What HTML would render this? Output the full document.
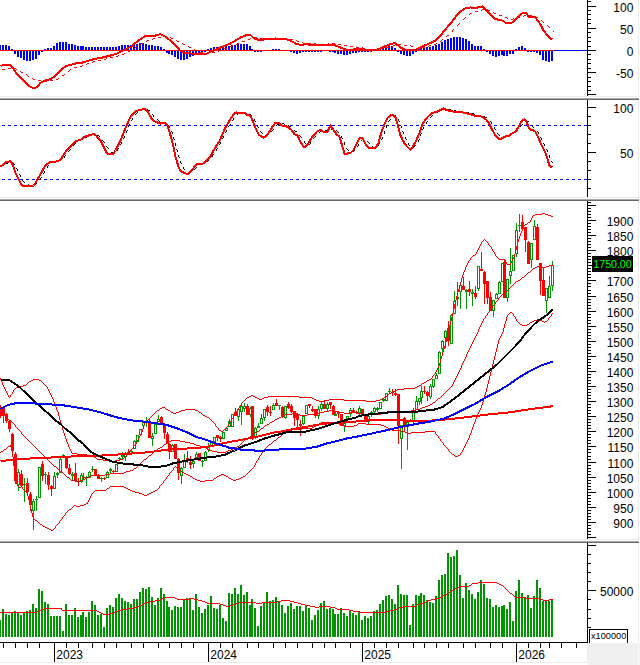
<!DOCTYPE html>
<html lang="en">
<head>
<meta charset="utf-8">
<title>Chart</title>
<style>
html,body{margin:0;padding:0;background:#fff;}
svg{display:block;}
text{font-family:"Liberation Sans",sans-serif;font-size:12px;fill:#000;}
</style>
</head>
<body>
<svg width="640" height="665" viewBox="0 0 640 665">
<g shape-rendering="crispEdges">
<rect x="0" y="0" width="640" height="665" fill="#ffffff"/>
<rect x="0" y="96" width="639" height="1" fill="#ebebeb"/>
<rect x="0" y="197" width="639" height="1" fill="#ebebeb"/>
<rect x="0" y="539" width="639" height="1" fill="#ebebeb"/>
<rect x="638" y="0" width="1" height="96" fill="#ebebeb"/>
<rect x="638" y="100" width="1" height="97" fill="#ebebeb"/>
<rect x="638" y="201" width="1" height="338" fill="#ebebeb"/>
<rect x="638" y="543" width="1" height="100" fill="#ebebeb"/>
<rect x="0" y="98" width="639" height="1" fill="#a8a8a8"/>
<rect x="0" y="99" width="639" height="1" fill="#6a6a6a"/>
<rect x="0" y="199" width="639" height="1" fill="#a8a8a8"/>
<rect x="0" y="200" width="639" height="1" fill="#6a6a6a"/>
<rect x="0" y="541" width="639" height="1" fill="#a8a8a8"/>
<rect x="0" y="542" width="639" height="1" fill="#6a6a6a"/>
<rect x="588" y="643" width="52" height="22" fill="#f0f0f0"/>
<rect x="0" y="662" width="588" height="1" fill="#ebebeb"/>
<rect x="587" y="643" width="1" height="20" fill="#ebebeb"/>
<rect x="638" y="643" width="1" height="22" fill="#fafafa"/>
<rect x="587" y="0" width="1" height="96" fill="#000"/>
<rect x="587" y="100" width="1" height="97" fill="#000"/>
<rect x="587" y="201" width="1" height="338" fill="#000"/>
<rect x="587" y="543" width="1" height="100" fill="#000"/>
<rect x="588" y="1" width="3" height="1" fill="#000"/>
<rect x="588" y="6" width="8" height="1" fill="#000"/>
<rect x="588" y="10" width="3" height="1" fill="#000"/>
<rect x="588" y="14" width="3" height="1" fill="#000"/>
<rect x="588" y="19" width="3" height="1" fill="#000"/>
<rect x="588" y="23" width="3" height="1" fill="#000"/>
<rect x="588" y="28" width="8" height="1" fill="#000"/>
<rect x="588" y="32" width="3" height="1" fill="#000"/>
<rect x="588" y="37" width="3" height="1" fill="#000"/>
<rect x="588" y="41" width="3" height="1" fill="#000"/>
<rect x="588" y="46" width="3" height="1" fill="#000"/>
<rect x="588" y="50" width="8" height="1" fill="#000"/>
<rect x="588" y="54" width="3" height="1" fill="#000"/>
<rect x="588" y="59" width="3" height="1" fill="#000"/>
<rect x="588" y="63" width="3" height="1" fill="#000"/>
<rect x="588" y="68" width="3" height="1" fill="#000"/>
<rect x="588" y="72" width="8" height="1" fill="#000"/>
<rect x="588" y="77" width="3" height="1" fill="#000"/>
<rect x="588" y="81" width="3" height="1" fill="#000"/>
<rect x="588" y="86" width="3" height="1" fill="#000"/>
<rect x="588" y="90" width="3" height="1" fill="#000"/>
<rect x="588" y="94" width="8" height="1" fill="#000"/>
<rect x="588" y="107" width="8" height="1" fill="#000"/>
<rect x="588" y="116" width="3" height="1" fill="#000"/>
<rect x="588" y="125" width="3" height="1" fill="#000"/>
<rect x="588" y="134" width="3" height="1" fill="#000"/>
<rect x="588" y="143" width="3" height="1" fill="#000"/>
<rect x="588" y="152" width="8" height="1" fill="#000"/>
<rect x="588" y="161" width="3" height="1" fill="#000"/>
<rect x="588" y="170" width="3" height="1" fill="#000"/>
<rect x="588" y="179" width="3" height="1" fill="#000"/>
<rect x="588" y="188" width="3" height="1" fill="#000"/>
<rect x="588" y="537" width="8" height="1" fill="#000"/>
<rect x="588" y="534" width="3" height="1" fill="#000"/>
<rect x="588" y="531" width="3" height="1" fill="#000"/>
<rect x="588" y="528" width="3" height="1" fill="#000"/>
<rect x="588" y="525" width="3" height="1" fill="#000"/>
<rect x="588" y="522" width="8" height="1" fill="#000"/>
<rect x="588" y="519" width="3" height="1" fill="#000"/>
<rect x="588" y="516" width="3" height="1" fill="#000"/>
<rect x="588" y="513" width="3" height="1" fill="#000"/>
<rect x="588" y="510" width="3" height="1" fill="#000"/>
<rect x="588" y="507" width="8" height="1" fill="#000"/>
<rect x="588" y="504" width="3" height="1" fill="#000"/>
<rect x="588" y="501" width="3" height="1" fill="#000"/>
<rect x="588" y="498" width="3" height="1" fill="#000"/>
<rect x="588" y="495" width="3" height="1" fill="#000"/>
<rect x="588" y="492" width="8" height="1" fill="#000"/>
<rect x="588" y="489" width="3" height="1" fill="#000"/>
<rect x="588" y="486" width="3" height="1" fill="#000"/>
<rect x="588" y="483" width="3" height="1" fill="#000"/>
<rect x="588" y="480" width="3" height="1" fill="#000"/>
<rect x="588" y="477" width="8" height="1" fill="#000"/>
<rect x="588" y="474" width="3" height="1" fill="#000"/>
<rect x="588" y="471" width="3" height="1" fill="#000"/>
<rect x="588" y="468" width="3" height="1" fill="#000"/>
<rect x="588" y="465" width="3" height="1" fill="#000"/>
<rect x="588" y="462" width="8" height="1" fill="#000"/>
<rect x="588" y="459" width="3" height="1" fill="#000"/>
<rect x="588" y="456" width="3" height="1" fill="#000"/>
<rect x="588" y="452" width="3" height="1" fill="#000"/>
<rect x="588" y="449" width="3" height="1" fill="#000"/>
<rect x="588" y="446" width="8" height="1" fill="#000"/>
<rect x="588" y="443" width="3" height="1" fill="#000"/>
<rect x="588" y="440" width="3" height="1" fill="#000"/>
<rect x="588" y="437" width="3" height="1" fill="#000"/>
<rect x="588" y="434" width="3" height="1" fill="#000"/>
<rect x="588" y="431" width="8" height="1" fill="#000"/>
<rect x="588" y="428" width="3" height="1" fill="#000"/>
<rect x="588" y="425" width="3" height="1" fill="#000"/>
<rect x="588" y="422" width="3" height="1" fill="#000"/>
<rect x="588" y="419" width="3" height="1" fill="#000"/>
<rect x="588" y="416" width="8" height="1" fill="#000"/>
<rect x="588" y="413" width="3" height="1" fill="#000"/>
<rect x="588" y="410" width="3" height="1" fill="#000"/>
<rect x="588" y="407" width="3" height="1" fill="#000"/>
<rect x="588" y="404" width="3" height="1" fill="#000"/>
<rect x="588" y="401" width="8" height="1" fill="#000"/>
<rect x="588" y="398" width="3" height="1" fill="#000"/>
<rect x="588" y="395" width="3" height="1" fill="#000"/>
<rect x="588" y="392" width="3" height="1" fill="#000"/>
<rect x="588" y="389" width="3" height="1" fill="#000"/>
<rect x="588" y="386" width="8" height="1" fill="#000"/>
<rect x="588" y="383" width="3" height="1" fill="#000"/>
<rect x="588" y="380" width="3" height="1" fill="#000"/>
<rect x="588" y="377" width="3" height="1" fill="#000"/>
<rect x="588" y="374" width="3" height="1" fill="#000"/>
<rect x="588" y="371" width="8" height="1" fill="#000"/>
<rect x="588" y="368" width="3" height="1" fill="#000"/>
<rect x="588" y="365" width="3" height="1" fill="#000"/>
<rect x="588" y="362" width="3" height="1" fill="#000"/>
<rect x="588" y="359" width="3" height="1" fill="#000"/>
<rect x="588" y="356" width="8" height="1" fill="#000"/>
<rect x="588" y="353" width="3" height="1" fill="#000"/>
<rect x="588" y="350" width="3" height="1" fill="#000"/>
<rect x="588" y="347" width="3" height="1" fill="#000"/>
<rect x="588" y="344" width="3" height="1" fill="#000"/>
<rect x="588" y="341" width="8" height="1" fill="#000"/>
<rect x="588" y="338" width="3" height="1" fill="#000"/>
<rect x="588" y="335" width="3" height="1" fill="#000"/>
<rect x="588" y="332" width="3" height="1" fill="#000"/>
<rect x="588" y="329" width="3" height="1" fill="#000"/>
<rect x="588" y="326" width="8" height="1" fill="#000"/>
<rect x="588" y="323" width="3" height="1" fill="#000"/>
<rect x="588" y="320" width="3" height="1" fill="#000"/>
<rect x="588" y="317" width="3" height="1" fill="#000"/>
<rect x="588" y="314" width="3" height="1" fill="#000"/>
<rect x="588" y="311" width="8" height="1" fill="#000"/>
<rect x="588" y="308" width="3" height="1" fill="#000"/>
<rect x="588" y="305" width="3" height="1" fill="#000"/>
<rect x="588" y="302" width="3" height="1" fill="#000"/>
<rect x="588" y="299" width="3" height="1" fill="#000"/>
<rect x="588" y="296" width="8" height="1" fill="#000"/>
<rect x="588" y="293" width="3" height="1" fill="#000"/>
<rect x="588" y="290" width="3" height="1" fill="#000"/>
<rect x="588" y="286" width="3" height="1" fill="#000"/>
<rect x="588" y="283" width="3" height="1" fill="#000"/>
<rect x="588" y="280" width="8" height="1" fill="#000"/>
<rect x="588" y="277" width="3" height="1" fill="#000"/>
<rect x="588" y="274" width="3" height="1" fill="#000"/>
<rect x="588" y="271" width="3" height="1" fill="#000"/>
<rect x="588" y="268" width="3" height="1" fill="#000"/>
<rect x="588" y="265" width="8" height="1" fill="#000"/>
<rect x="588" y="262" width="3" height="1" fill="#000"/>
<rect x="588" y="259" width="3" height="1" fill="#000"/>
<rect x="588" y="256" width="3" height="1" fill="#000"/>
<rect x="588" y="253" width="3" height="1" fill="#000"/>
<rect x="588" y="250" width="8" height="1" fill="#000"/>
<rect x="588" y="247" width="3" height="1" fill="#000"/>
<rect x="588" y="244" width="3" height="1" fill="#000"/>
<rect x="588" y="241" width="3" height="1" fill="#000"/>
<rect x="588" y="238" width="3" height="1" fill="#000"/>
<rect x="588" y="235" width="8" height="1" fill="#000"/>
<rect x="588" y="232" width="3" height="1" fill="#000"/>
<rect x="588" y="229" width="3" height="1" fill="#000"/>
<rect x="588" y="226" width="3" height="1" fill="#000"/>
<rect x="588" y="223" width="3" height="1" fill="#000"/>
<rect x="588" y="220" width="8" height="1" fill="#000"/>
<rect x="588" y="217" width="3" height="1" fill="#000"/>
<rect x="588" y="214" width="3" height="1" fill="#000"/>
<rect x="588" y="211" width="3" height="1" fill="#000"/>
<rect x="588" y="208" width="3" height="1" fill="#000"/>
<rect x="588" y="205" width="8" height="1" fill="#000"/>
<rect x="588" y="202" width="3" height="1" fill="#000"/>
<rect x="588" y="627" width="3" height="1" fill="#000"/>
<rect x="588" y="618" width="3" height="1" fill="#000"/>
<rect x="588" y="609" width="3" height="1" fill="#000"/>
<rect x="588" y="599" width="3" height="1" fill="#000"/>
<rect x="588" y="590" width="8" height="1" fill="#000"/>
<rect x="588" y="581" width="3" height="1" fill="#000"/>
<rect x="588" y="572" width="3" height="1" fill="#000"/>
<rect x="588" y="563" width="3" height="1" fill="#000"/>
<rect x="588" y="554" width="3" height="1" fill="#000"/>
<rect x="588" y="545" width="8" height="1" fill="#000"/>
<rect x="0" y="642" width="588" height="1" fill="#000"/>
<rect x="3" y="643" width="1" height="5" fill="#000"/>
<rect x="15" y="643" width="1" height="5" fill="#000"/>
<rect x="27" y="643" width="1" height="5" fill="#000"/>
<rect x="39" y="643" width="1" height="5" fill="#000"/>
<rect x="66" y="643" width="1" height="5" fill="#000"/>
<rect x="78" y="643" width="1" height="5" fill="#000"/>
<rect x="92" y="643" width="1" height="5" fill="#000"/>
<rect x="104" y="643" width="1" height="5" fill="#000"/>
<rect x="116" y="643" width="1" height="5" fill="#000"/>
<rect x="131" y="643" width="1" height="5" fill="#000"/>
<rect x="143" y="643" width="1" height="5" fill="#000"/>
<rect x="158" y="643" width="1" height="5" fill="#000"/>
<rect x="169" y="643" width="1" height="5" fill="#000"/>
<rect x="181" y="643" width="1" height="5" fill="#000"/>
<rect x="193" y="643" width="1" height="5" fill="#000"/>
<rect x="220" y="643" width="1" height="5" fill="#000"/>
<rect x="232" y="643" width="1" height="5" fill="#000"/>
<rect x="247" y="643" width="1" height="5" fill="#000"/>
<rect x="258" y="643" width="1" height="5" fill="#000"/>
<rect x="273" y="643" width="1" height="5" fill="#000"/>
<rect x="285" y="643" width="1" height="5" fill="#000"/>
<rect x="297" y="643" width="1" height="5" fill="#000"/>
<rect x="312" y="643" width="1" height="5" fill="#000"/>
<rect x="324" y="643" width="1" height="5" fill="#000"/>
<rect x="335" y="643" width="1" height="5" fill="#000"/>
<rect x="350" y="643" width="1" height="5" fill="#000"/>
<rect x="374" y="643" width="1" height="5" fill="#000"/>
<rect x="386" y="643" width="1" height="5" fill="#000"/>
<rect x="398" y="643" width="1" height="5" fill="#000"/>
<rect x="413" y="643" width="1" height="5" fill="#000"/>
<rect x="424" y="643" width="1" height="5" fill="#000"/>
<rect x="436" y="643" width="1" height="5" fill="#000"/>
<rect x="448" y="643" width="1" height="5" fill="#000"/>
<rect x="463" y="643" width="1" height="5" fill="#000"/>
<rect x="475" y="643" width="1" height="5" fill="#000"/>
<rect x="490" y="643" width="1" height="5" fill="#000"/>
<rect x="502" y="643" width="1" height="5" fill="#000"/>
<rect x="528" y="643" width="1" height="5" fill="#000"/>
<rect x="540" y="643" width="1" height="5" fill="#000"/>
<rect x="549" y="643" width="1" height="5" fill="#000"/>
<rect x="561" y="643" width="1" height="5" fill="#000"/>
<rect x="576" y="643" width="1" height="5" fill="#000"/>
<rect x="54" y="643" width="1" height="19" fill="#000"/>
<rect x="208" y="643" width="1" height="19" fill="#000"/>
<rect x="362" y="643" width="1" height="19" fill="#000"/>
<rect x="516" y="643" width="1" height="19" fill="#000"/>
<rect x="-1" y="45" width="2" height="5" fill="#0000ff"/>
<rect x="2" y="45" width="2" height="5" fill="#0000ff"/>
<rect x="5" y="45" width="2" height="5" fill="#0000ff"/>
<rect x="8" y="46" width="2" height="4" fill="#0000ff"/>
<rect x="11" y="49" width="2" height="1" fill="#0000ff"/>
<rect x="14" y="51" width="2" height="3" fill="#0000ff"/>
<rect x="17" y="51" width="2" height="6" fill="#0000ff"/>
<rect x="20" y="51" width="2" height="7" fill="#0000ff"/>
<rect x="23" y="51" width="2" height="9" fill="#0000ff"/>
<rect x="26" y="51" width="2" height="10" fill="#0000ff"/>
<rect x="29" y="51" width="2" height="10" fill="#0000ff"/>
<rect x="32" y="51" width="2" height="9" fill="#0000ff"/>
<rect x="35" y="51" width="2" height="8" fill="#0000ff"/>
<rect x="38" y="51" width="2" height="4" fill="#0000ff"/>
<rect x="41" y="51" width="2" height="1" fill="#0000ff"/>
<rect x="44" y="49" width="2" height="1" fill="#0000ff"/>
<rect x="47" y="48" width="2" height="2" fill="#0000ff"/>
<rect x="50" y="48" width="2" height="2" fill="#0000ff"/>
<rect x="53" y="46" width="2" height="4" fill="#0000ff"/>
<rect x="56" y="43" width="2" height="7" fill="#0000ff"/>
<rect x="59" y="42" width="2" height="8" fill="#0000ff"/>
<rect x="62" y="42" width="2" height="8" fill="#0000ff"/>
<rect x="65" y="42" width="2" height="8" fill="#0000ff"/>
<rect x="68" y="44" width="2" height="6" fill="#0000ff"/>
<rect x="71" y="44" width="2" height="6" fill="#0000ff"/>
<rect x="74" y="45" width="2" height="5" fill="#0000ff"/>
<rect x="77" y="46" width="2" height="4" fill="#0000ff"/>
<rect x="80" y="46" width="2" height="4" fill="#0000ff"/>
<rect x="82" y="46" width="2" height="4" fill="#0000ff"/>
<rect x="85" y="47" width="2" height="3" fill="#0000ff"/>
<rect x="88" y="47" width="2" height="3" fill="#0000ff"/>
<rect x="91" y="47" width="2" height="3" fill="#0000ff"/>
<rect x="94" y="47" width="2" height="3" fill="#0000ff"/>
<rect x="97" y="47" width="2" height="3" fill="#0000ff"/>
<rect x="100" y="47" width="2" height="3" fill="#0000ff"/>
<rect x="103" y="47" width="2" height="3" fill="#0000ff"/>
<rect x="106" y="47" width="2" height="3" fill="#0000ff"/>
<rect x="109" y="47" width="2" height="3" fill="#0000ff"/>
<rect x="112" y="47" width="2" height="3" fill="#0000ff"/>
<rect x="115" y="47" width="2" height="3" fill="#0000ff"/>
<rect x="118" y="46" width="2" height="4" fill="#0000ff"/>
<rect x="121" y="45" width="2" height="5" fill="#0000ff"/>
<rect x="124" y="45" width="2" height="5" fill="#0000ff"/>
<rect x="127" y="45" width="2" height="5" fill="#0000ff"/>
<rect x="130" y="45" width="2" height="5" fill="#0000ff"/>
<rect x="133" y="44" width="2" height="6" fill="#0000ff"/>
<rect x="136" y="44" width="2" height="6" fill="#0000ff"/>
<rect x="139" y="43" width="2" height="7" fill="#0000ff"/>
<rect x="142" y="43" width="2" height="7" fill="#0000ff"/>
<rect x="145" y="44" width="2" height="6" fill="#0000ff"/>
<rect x="148" y="45" width="2" height="5" fill="#0000ff"/>
<rect x="151" y="45" width="2" height="5" fill="#0000ff"/>
<rect x="154" y="46" width="2" height="4" fill="#0000ff"/>
<rect x="157" y="46" width="2" height="4" fill="#0000ff"/>
<rect x="160" y="47" width="2" height="3" fill="#0000ff"/>
<rect x="163" y="49" width="2" height="1" fill="#0000ff"/>
<rect x="166" y="51" width="2" height="2" fill="#0000ff"/>
<rect x="168" y="51" width="2" height="3" fill="#0000ff"/>
<rect x="171" y="51" width="2" height="4" fill="#0000ff"/>
<rect x="174" y="51" width="2" height="6" fill="#0000ff"/>
<rect x="177" y="51" width="2" height="8" fill="#0000ff"/>
<rect x="180" y="51" width="2" height="9" fill="#0000ff"/>
<rect x="183" y="51" width="2" height="9" fill="#0000ff"/>
<rect x="186" y="51" width="2" height="8" fill="#0000ff"/>
<rect x="189" y="51" width="2" height="6" fill="#0000ff"/>
<rect x="192" y="51" width="2" height="5" fill="#0000ff"/>
<rect x="195" y="51" width="2" height="3" fill="#0000ff"/>
<rect x="198" y="51" width="2" height="2" fill="#0000ff"/>
<rect x="201" y="51" width="2" height="2" fill="#0000ff"/>
<rect x="204" y="51" width="2" height="1" fill="#0000ff"/>
<rect x="207" y="49" width="2" height="1" fill="#0000ff"/>
<rect x="210" y="48" width="2" height="2" fill="#0000ff"/>
<rect x="213" y="47" width="2" height="3" fill="#0000ff"/>
<rect x="216" y="47" width="2" height="3" fill="#0000ff"/>
<rect x="219" y="47" width="2" height="3" fill="#0000ff"/>
<rect x="222" y="46" width="2" height="4" fill="#0000ff"/>
<rect x="225" y="46" width="2" height="4" fill="#0000ff"/>
<rect x="228" y="46" width="2" height="4" fill="#0000ff"/>
<rect x="231" y="45" width="2" height="5" fill="#0000ff"/>
<rect x="234" y="45" width="2" height="5" fill="#0000ff"/>
<rect x="237" y="44" width="2" height="6" fill="#0000ff"/>
<rect x="240" y="44" width="2" height="6" fill="#0000ff"/>
<rect x="243" y="44" width="2" height="6" fill="#0000ff"/>
<rect x="246" y="44" width="2" height="6" fill="#0000ff"/>
<rect x="249" y="46" width="2" height="4" fill="#0000ff"/>
<rect x="251" y="49" width="2" height="1" fill="#0000ff"/>
<rect x="254" y="51" width="2" height="1" fill="#0000ff"/>
<rect x="257" y="51" width="2" height="1" fill="#0000ff"/>
<rect x="260" y="51" width="2" height="1" fill="#0000ff"/>
<rect x="272" y="49" width="2" height="1" fill="#0000ff"/>
<rect x="275" y="49" width="2" height="1" fill="#0000ff"/>
<rect x="278" y="49" width="2" height="1" fill="#0000ff"/>
<rect x="290" y="51" width="2" height="1" fill="#0000ff"/>
<rect x="293" y="51" width="2" height="2" fill="#0000ff"/>
<rect x="296" y="51" width="2" height="3" fill="#0000ff"/>
<rect x="299" y="51" width="2" height="2" fill="#0000ff"/>
<rect x="302" y="51" width="2" height="1" fill="#0000ff"/>
<rect x="305" y="51" width="2" height="1" fill="#0000ff"/>
<rect x="308" y="51" width="2" height="1" fill="#0000ff"/>
<rect x="311" y="51" width="2" height="1" fill="#0000ff"/>
<rect x="314" y="51" width="2" height="1" fill="#0000ff"/>
<rect x="317" y="51" width="2" height="1" fill="#0000ff"/>
<rect x="320" y="51" width="2" height="1" fill="#0000ff"/>
<rect x="329" y="51" width="2" height="1" fill="#0000ff"/>
<rect x="332" y="51" width="2" height="1" fill="#0000ff"/>
<rect x="334" y="51" width="2" height="2" fill="#0000ff"/>
<rect x="337" y="51" width="2" height="3" fill="#0000ff"/>
<rect x="340" y="51" width="2" height="3" fill="#0000ff"/>
<rect x="343" y="51" width="2" height="4" fill="#0000ff"/>
<rect x="346" y="51" width="2" height="4" fill="#0000ff"/>
<rect x="349" y="51" width="2" height="3" fill="#0000ff"/>
<rect x="352" y="51" width="2" height="2" fill="#0000ff"/>
<rect x="355" y="51" width="2" height="2" fill="#0000ff"/>
<rect x="358" y="51" width="2" height="1" fill="#0000ff"/>
<rect x="361" y="51" width="2" height="1" fill="#0000ff"/>
<rect x="364" y="51" width="2" height="1" fill="#0000ff"/>
<rect x="367" y="51" width="2" height="1" fill="#0000ff"/>
<rect x="370" y="51" width="2" height="1" fill="#0000ff"/>
<rect x="379" y="49" width="2" height="1" fill="#0000ff"/>
<rect x="382" y="48" width="2" height="2" fill="#0000ff"/>
<rect x="385" y="47" width="2" height="3" fill="#0000ff"/>
<rect x="388" y="46" width="2" height="4" fill="#0000ff"/>
<rect x="391" y="46" width="2" height="4" fill="#0000ff"/>
<rect x="394" y="48" width="2" height="2" fill="#0000ff"/>
<rect x="397" y="51" width="2" height="1" fill="#0000ff"/>
<rect x="400" y="51" width="2" height="3" fill="#0000ff"/>
<rect x="403" y="51" width="2" height="4" fill="#0000ff"/>
<rect x="406" y="51" width="2" height="5" fill="#0000ff"/>
<rect x="409" y="51" width="2" height="5" fill="#0000ff"/>
<rect x="412" y="51" width="2" height="3" fill="#0000ff"/>
<rect x="415" y="51" width="2" height="1" fill="#0000ff"/>
<rect x="418" y="49" width="2" height="1" fill="#0000ff"/>
<rect x="420" y="48" width="2" height="2" fill="#0000ff"/>
<rect x="423" y="47" width="2" height="3" fill="#0000ff"/>
<rect x="426" y="47" width="2" height="3" fill="#0000ff"/>
<rect x="429" y="47" width="2" height="3" fill="#0000ff"/>
<rect x="432" y="46" width="2" height="4" fill="#0000ff"/>
<rect x="435" y="45" width="2" height="5" fill="#0000ff"/>
<rect x="438" y="44" width="2" height="6" fill="#0000ff"/>
<rect x="441" y="42" width="2" height="8" fill="#0000ff"/>
<rect x="444" y="40" width="2" height="10" fill="#0000ff"/>
<rect x="447" y="39" width="2" height="11" fill="#0000ff"/>
<rect x="450" y="38" width="2" height="12" fill="#0000ff"/>
<rect x="453" y="37" width="2" height="13" fill="#0000ff"/>
<rect x="456" y="37" width="2" height="13" fill="#0000ff"/>
<rect x="459" y="37" width="2" height="13" fill="#0000ff"/>
<rect x="462" y="38" width="2" height="12" fill="#0000ff"/>
<rect x="465" y="39" width="2" height="11" fill="#0000ff"/>
<rect x="468" y="41" width="2" height="9" fill="#0000ff"/>
<rect x="471" y="44" width="2" height="6" fill="#0000ff"/>
<rect x="474" y="46" width="2" height="4" fill="#0000ff"/>
<rect x="477" y="46" width="2" height="4" fill="#0000ff"/>
<rect x="480" y="46" width="2" height="4" fill="#0000ff"/>
<rect x="483" y="49" width="2" height="1" fill="#0000ff"/>
<rect x="486" y="51" width="2" height="1" fill="#0000ff"/>
<rect x="489" y="51" width="2" height="3" fill="#0000ff"/>
<rect x="492" y="51" width="2" height="5" fill="#0000ff"/>
<rect x="495" y="51" width="2" height="6" fill="#0000ff"/>
<rect x="498" y="51" width="2" height="5" fill="#0000ff"/>
<rect x="501" y="51" width="2" height="4" fill="#0000ff"/>
<rect x="503" y="51" width="2" height="5" fill="#0000ff"/>
<rect x="506" y="51" width="2" height="5" fill="#0000ff"/>
<rect x="509" y="51" width="2" height="3" fill="#0000ff"/>
<rect x="512" y="51" width="2" height="3" fill="#0000ff"/>
<rect x="515" y="49" width="2" height="1" fill="#0000ff"/>
<rect x="518" y="47" width="2" height="3" fill="#0000ff"/>
<rect x="521" y="46" width="2" height="4" fill="#0000ff"/>
<rect x="524" y="48" width="2" height="2" fill="#0000ff"/>
<rect x="527" y="51" width="2" height="1" fill="#0000ff"/>
<rect x="530" y="51" width="2" height="1" fill="#0000ff"/>
<rect x="533" y="51" width="2" height="1" fill="#0000ff"/>
<rect x="536" y="51" width="2" height="2" fill="#0000ff"/>
<rect x="539" y="51" width="2" height="4" fill="#0000ff"/>
<rect x="542" y="51" width="2" height="9" fill="#0000ff"/>
<rect x="545" y="51" width="2" height="10" fill="#0000ff"/>
<rect x="548" y="51" width="2" height="11" fill="#0000ff"/>
<rect x="551" y="51" width="2" height="10" fill="#0000ff"/>
<rect x="0" y="50" width="554" height="1" fill="#ff0000"/>
<rect x="554" y="50" width="33" height="1" fill="#0000ff"/>
<path d="M482 9h2v1h-2zM487 9h1v1h-1zM481 10h1v1h-1zM488 10h2v1h-2zM475 11h3v1h-3zM493 12h1v1h-1zM470 13h2v1h-2zM494 13h2v1h-2zM469 14h1v1h-1zM499 15h3v1h-3zM524 15h2v1h-2zM529 15h3v1h-3zM523 16h1v1h-1zM535 16h1v1h-1zM465 17h1v1h-1zM505 17h2v1h-2zM518 17h2v1h-2zM536 17h2v1h-2zM464 18h1v1h-1zM507 18h1v1h-1zM513 18h1v1h-1zM517 18h1v1h-1zM463 19h1v1h-1zM511 19h2v1h-2zM541 20h1v1h-1zM542 21h1v1h-1zM543 22h1v1h-1zM459 23h1v1h-1zM458 24h1v1h-1zM457 25h1v1h-1zM547 25h1v1h-1zM548 26h1v1h-1zM549 27h1v1h-1zM453 29h1v1h-1zM452 30h1v1h-1zM452 31h1v1h-1zM553 31h1v1h-1zM447 35h2v1h-2zM164 36h3v1h-3zM446 36h1v1h-1zM158 37h3v1h-3zM170 37h1v1h-1zM254 37h3v1h-3zM153 38h2v1h-2zM171 38h2v1h-2zM250 38h1v1h-1zM260 38h3v1h-3zM278 38h3v1h-3zM284 38h2v1h-2zM152 39h1v1h-1zM248 39h2v1h-2zM266 39h3v1h-3zM272 39h3v1h-3zM286 39h1v1h-1zM290 39h3v1h-3zM442 39h1v1h-1zM147 40h2v1h-2zM176 40h1v1h-1zM296 40h1v1h-1zM441 40h1v1h-1zM146 41h1v1h-1zM177 41h2v1h-2zM242 41h3v1h-3zM297 41h2v1h-2zM440 41h1v1h-1zM302 42h1v1h-1zM141 43h2v1h-2zM182 43h1v1h-1zM237 43h2v1h-2zM303 43h2v1h-2zM308 43h3v1h-3zM314 43h2v1h-2zM328 43h1v1h-1zM332 43h3v1h-3zM436 43h1v1h-1zM140 44h1v1h-1zM183 44h2v1h-2zM236 44h1v1h-1zM316 44h1v1h-1zM320 44h3v1h-3zM326 44h2v1h-2zM338 44h3v1h-3zM398 44h3v1h-3zM434 44h2v1h-2zM232 45h1v1h-1zM344 45h3v1h-3zM393 45h2v1h-2zM404 45h3v1h-3zM410 45h1v1h-1zM429 45h2v1h-2zM136 46h1v1h-1zM188 46h1v1h-1zM230 46h2v1h-2zM350 46h3v1h-3zM392 46h1v1h-1zM411 46h2v1h-2zM428 46h1v1h-1zM135 47h1v1h-1zM189 47h2v1h-2zM356 47h3v1h-3zM362 47h1v1h-1zM386 47h3v1h-3zM422 47h3v1h-3zM134 48h1v1h-1zM224 48h3v1h-3zM363 48h2v1h-2zM380 48h3v1h-3zM416 48h3v1h-3zM194 49h1v1h-1zM368 49h3v1h-3zM374 49h3v1h-3zM130 50h1v1h-1zM195 50h2v1h-2zM219 50h2v1h-2zM128 51h2v1h-2zM218 51h1v1h-1zM200 52h3v1h-3zM208 52h1v1h-1zM212 52h3v1h-3zM124 53h1v1h-1zM206 53h2v1h-2zM122 54h2v1h-2zM118 55h1v1h-1zM116 56h2v1h-2zM110 57h3v1h-3zM106 58h1v1h-1zM104 59h2v1h-2zM98 60h3v1h-3zM93 61h2v1h-2zM92 62h1v1h-1zM87 63h2v1h-2zM86 64h1v1h-1zM82 65h1v1h-1zM80 66h2v1h-2zM74 67h3v1h-3zM8 68h3v1h-3zM14 68h2v1h-2zM2 69h3v1h-3zM16 69h1v1h-1zM70 69h1v1h-1zM69 70h1v1h-1zM20 71h1v1h-1zM68 71h1v1h-1zM21 72h2v1h-2zM26 74h1v1h-1zM64 74h1v1h-1zM27 75h1v1h-1zM62 75h2v1h-2zM28 76h1v1h-1zM32 78h1v1h-1zM58 78h1v1h-1zM33 79h2v1h-2zM56 79h2v1h-2zM38 80h3v1h-3zM44 80h2v1h-2zM50 80h3v1h-3zM46 81h1v1h-1z" fill="#ff0000"/>
<polyline points="0.5,66.0 5.5,64.7 10.5,65.3 12.5,67.2 14.5,70.5 16.5,73.3 18.5,75.7 20.5,77.5 25.5,82.7 30.5,86.9 34.5,88.3 38.0,86.5 40.5,82.7 45.5,80.5 50.5,79.2 55.5,76.0 60.5,70.5 65.5,66.2 70.5,65.0 75.5,63.5 80.5,63.0 85.5,61.8 90.5,60.0 95.5,58.8 100.5,58.0 105.5,56.8 110.5,55.5 115.5,54.2 120.5,51.8 125.5,49.2 130.5,46.8 135.5,43.0 140.5,39.2 145.5,36.0 150.5,36.0 155.5,35.5 160.5,34.2 165.5,36.8 170.5,40.5 175.5,45.5 180.5,51.0 185.5,53.0 190.5,53.5 195.5,53.8 200.5,54.2 205.5,54.2 210.5,51.8 215.5,50.0 220.5,47.5 225.5,45.5 230.5,43.5 235.5,40.5 240.5,37.5 245.5,35.5 250.5,35.0 253.5,38.0 255.5,39.2 260.5,40.0 265.5,39.2 270.5,39.2 275.5,38.5 280.5,38.8 285.5,39.2 290.5,40.5 295.5,43.5 300.5,45.0 305.5,44.2 310.5,44.8 315.5,45.0 320.5,45.5 325.5,44.5 330.5,44.5 335.5,45.5 340.5,47.5 345.5,49.5 350.5,49.8 355.5,49.2 360.5,49.2 365.5,50.0 370.5,50.5 375.5,50.0 380.5,48.5 385.5,46.0 390.5,44.2 394.5,43.0 397.5,45.0 400.5,47.5 405.5,50.0 410.5,50.5 415.5,50.0 420.5,47.5 425.5,45.0 430.5,43.0 435.5,40.5 440.5,35.5 445.5,29.2 450.5,23.5 455.5,17.0 460.5,11.5 465.5,8.2 470.5,7.4 475.5,8.0 480.5,6.8 482.5,6.5 485.5,9.2 490.5,14.2 495.5,19.2 500.5,20.0 503.5,21.0 505.5,23.0 510.5,23.0 513.5,21.8 515.5,19.2 520.5,14.2 523.5,13.0 526.5,13.5 528.5,16.8 530.5,17.2 535.5,17.5 538.5,21.8 540.5,24.2 543.5,30.5 545.5,33.0 548.5,36.8 550.5,38.5 552.5,39.2" fill="none" stroke="#ff0000" stroke-width="2"/>
<rect x="2" y="125" width="3" height="1" fill="#0000ff"/>
<rect x="8" y="125" width="3" height="1" fill="#0000ff"/>
<rect x="14" y="125" width="3" height="1" fill="#0000ff"/>
<rect x="20" y="125" width="3" height="1" fill="#0000ff"/>
<rect x="26" y="125" width="3" height="1" fill="#0000ff"/>
<rect x="32" y="125" width="3" height="1" fill="#0000ff"/>
<rect x="38" y="125" width="3" height="1" fill="#0000ff"/>
<rect x="44" y="125" width="3" height="1" fill="#0000ff"/>
<rect x="50" y="125" width="3" height="1" fill="#0000ff"/>
<rect x="56" y="125" width="3" height="1" fill="#0000ff"/>
<rect x="62" y="125" width="3" height="1" fill="#0000ff"/>
<rect x="68" y="125" width="3" height="1" fill="#0000ff"/>
<rect x="74" y="125" width="3" height="1" fill="#0000ff"/>
<rect x="80" y="125" width="3" height="1" fill="#0000ff"/>
<rect x="86" y="125" width="3" height="1" fill="#0000ff"/>
<rect x="92" y="125" width="3" height="1" fill="#0000ff"/>
<rect x="98" y="125" width="3" height="1" fill="#0000ff"/>
<rect x="104" y="125" width="3" height="1" fill="#0000ff"/>
<rect x="110" y="125" width="3" height="1" fill="#0000ff"/>
<rect x="116" y="125" width="3" height="1" fill="#0000ff"/>
<rect x="122" y="125" width="3" height="1" fill="#0000ff"/>
<rect x="128" y="125" width="3" height="1" fill="#0000ff"/>
<rect x="134" y="125" width="3" height="1" fill="#0000ff"/>
<rect x="140" y="125" width="3" height="1" fill="#0000ff"/>
<rect x="146" y="125" width="3" height="1" fill="#0000ff"/>
<rect x="152" y="125" width="3" height="1" fill="#0000ff"/>
<rect x="158" y="125" width="3" height="1" fill="#0000ff"/>
<rect x="164" y="125" width="3" height="1" fill="#0000ff"/>
<rect x="170" y="125" width="3" height="1" fill="#0000ff"/>
<rect x="176" y="125" width="3" height="1" fill="#0000ff"/>
<rect x="182" y="125" width="3" height="1" fill="#0000ff"/>
<rect x="188" y="125" width="3" height="1" fill="#0000ff"/>
<rect x="194" y="125" width="3" height="1" fill="#0000ff"/>
<rect x="200" y="125" width="3" height="1" fill="#0000ff"/>
<rect x="206" y="125" width="3" height="1" fill="#0000ff"/>
<rect x="212" y="125" width="3" height="1" fill="#0000ff"/>
<rect x="218" y="125" width="3" height="1" fill="#0000ff"/>
<rect x="224" y="125" width="3" height="1" fill="#0000ff"/>
<rect x="230" y="125" width="3" height="1" fill="#0000ff"/>
<rect x="236" y="125" width="3" height="1" fill="#0000ff"/>
<rect x="242" y="125" width="3" height="1" fill="#0000ff"/>
<rect x="248" y="125" width="3" height="1" fill="#0000ff"/>
<rect x="254" y="125" width="3" height="1" fill="#0000ff"/>
<rect x="260" y="125" width="3" height="1" fill="#0000ff"/>
<rect x="266" y="125" width="3" height="1" fill="#0000ff"/>
<rect x="272" y="125" width="3" height="1" fill="#0000ff"/>
<rect x="278" y="125" width="3" height="1" fill="#0000ff"/>
<rect x="284" y="125" width="3" height="1" fill="#0000ff"/>
<rect x="290" y="125" width="3" height="1" fill="#0000ff"/>
<rect x="296" y="125" width="3" height="1" fill="#0000ff"/>
<rect x="302" y="125" width="3" height="1" fill="#0000ff"/>
<rect x="308" y="125" width="3" height="1" fill="#0000ff"/>
<rect x="314" y="125" width="3" height="1" fill="#0000ff"/>
<rect x="320" y="125" width="3" height="1" fill="#0000ff"/>
<rect x="326" y="125" width="3" height="1" fill="#0000ff"/>
<rect x="332" y="125" width="3" height="1" fill="#0000ff"/>
<rect x="338" y="125" width="3" height="1" fill="#0000ff"/>
<rect x="344" y="125" width="3" height="1" fill="#0000ff"/>
<rect x="350" y="125" width="3" height="1" fill="#0000ff"/>
<rect x="356" y="125" width="3" height="1" fill="#0000ff"/>
<rect x="362" y="125" width="3" height="1" fill="#0000ff"/>
<rect x="368" y="125" width="3" height="1" fill="#0000ff"/>
<rect x="374" y="125" width="3" height="1" fill="#0000ff"/>
<rect x="380" y="125" width="3" height="1" fill="#0000ff"/>
<rect x="386" y="125" width="3" height="1" fill="#0000ff"/>
<rect x="392" y="125" width="3" height="1" fill="#0000ff"/>
<rect x="398" y="125" width="3" height="1" fill="#0000ff"/>
<rect x="404" y="125" width="3" height="1" fill="#0000ff"/>
<rect x="410" y="125" width="3" height="1" fill="#0000ff"/>
<rect x="416" y="125" width="3" height="1" fill="#0000ff"/>
<rect x="422" y="125" width="3" height="1" fill="#0000ff"/>
<rect x="428" y="125" width="3" height="1" fill="#0000ff"/>
<rect x="434" y="125" width="3" height="1" fill="#0000ff"/>
<rect x="440" y="125" width="3" height="1" fill="#0000ff"/>
<rect x="446" y="125" width="3" height="1" fill="#0000ff"/>
<rect x="452" y="125" width="3" height="1" fill="#0000ff"/>
<rect x="458" y="125" width="3" height="1" fill="#0000ff"/>
<rect x="464" y="125" width="3" height="1" fill="#0000ff"/>
<rect x="470" y="125" width="3" height="1" fill="#0000ff"/>
<rect x="476" y="125" width="3" height="1" fill="#0000ff"/>
<rect x="482" y="125" width="3" height="1" fill="#0000ff"/>
<rect x="488" y="125" width="3" height="1" fill="#0000ff"/>
<rect x="494" y="125" width="3" height="1" fill="#0000ff"/>
<rect x="500" y="125" width="3" height="1" fill="#0000ff"/>
<rect x="506" y="125" width="3" height="1" fill="#0000ff"/>
<rect x="512" y="125" width="3" height="1" fill="#0000ff"/>
<rect x="518" y="125" width="3" height="1" fill="#0000ff"/>
<rect x="524" y="125" width="3" height="1" fill="#0000ff"/>
<rect x="530" y="125" width="3" height="1" fill="#0000ff"/>
<rect x="536" y="125" width="3" height="1" fill="#0000ff"/>
<rect x="542" y="125" width="3" height="1" fill="#0000ff"/>
<rect x="548" y="125" width="3" height="1" fill="#0000ff"/>
<rect x="554" y="125" width="3" height="1" fill="#0000ff"/>
<rect x="560" y="125" width="3" height="1" fill="#0000ff"/>
<rect x="566" y="125" width="3" height="1" fill="#0000ff"/>
<rect x="572" y="125" width="3" height="1" fill="#0000ff"/>
<rect x="578" y="125" width="3" height="1" fill="#0000ff"/>
<rect x="584" y="125" width="3" height="1" fill="#0000ff"/>
<rect x="2" y="179" width="3" height="1" fill="#0000ff"/>
<rect x="8" y="179" width="3" height="1" fill="#0000ff"/>
<rect x="14" y="179" width="3" height="1" fill="#0000ff"/>
<rect x="20" y="179" width="3" height="1" fill="#0000ff"/>
<rect x="26" y="179" width="3" height="1" fill="#0000ff"/>
<rect x="32" y="179" width="3" height="1" fill="#0000ff"/>
<rect x="38" y="179" width="3" height="1" fill="#0000ff"/>
<rect x="44" y="179" width="3" height="1" fill="#0000ff"/>
<rect x="50" y="179" width="3" height="1" fill="#0000ff"/>
<rect x="56" y="179" width="3" height="1" fill="#0000ff"/>
<rect x="62" y="179" width="3" height="1" fill="#0000ff"/>
<rect x="68" y="179" width="3" height="1" fill="#0000ff"/>
<rect x="74" y="179" width="3" height="1" fill="#0000ff"/>
<rect x="80" y="179" width="3" height="1" fill="#0000ff"/>
<rect x="86" y="179" width="3" height="1" fill="#0000ff"/>
<rect x="92" y="179" width="3" height="1" fill="#0000ff"/>
<rect x="98" y="179" width="3" height="1" fill="#0000ff"/>
<rect x="104" y="179" width="3" height="1" fill="#0000ff"/>
<rect x="110" y="179" width="3" height="1" fill="#0000ff"/>
<rect x="116" y="179" width="3" height="1" fill="#0000ff"/>
<rect x="122" y="179" width="3" height="1" fill="#0000ff"/>
<rect x="128" y="179" width="3" height="1" fill="#0000ff"/>
<rect x="134" y="179" width="3" height="1" fill="#0000ff"/>
<rect x="140" y="179" width="3" height="1" fill="#0000ff"/>
<rect x="146" y="179" width="3" height="1" fill="#0000ff"/>
<rect x="152" y="179" width="3" height="1" fill="#0000ff"/>
<rect x="158" y="179" width="3" height="1" fill="#0000ff"/>
<rect x="164" y="179" width="3" height="1" fill="#0000ff"/>
<rect x="170" y="179" width="3" height="1" fill="#0000ff"/>
<rect x="176" y="179" width="3" height="1" fill="#0000ff"/>
<rect x="182" y="179" width="3" height="1" fill="#0000ff"/>
<rect x="188" y="179" width="3" height="1" fill="#0000ff"/>
<rect x="194" y="179" width="3" height="1" fill="#0000ff"/>
<rect x="200" y="179" width="3" height="1" fill="#0000ff"/>
<rect x="206" y="179" width="3" height="1" fill="#0000ff"/>
<rect x="212" y="179" width="3" height="1" fill="#0000ff"/>
<rect x="218" y="179" width="3" height="1" fill="#0000ff"/>
<rect x="224" y="179" width="3" height="1" fill="#0000ff"/>
<rect x="230" y="179" width="3" height="1" fill="#0000ff"/>
<rect x="236" y="179" width="3" height="1" fill="#0000ff"/>
<rect x="242" y="179" width="3" height="1" fill="#0000ff"/>
<rect x="248" y="179" width="3" height="1" fill="#0000ff"/>
<rect x="254" y="179" width="3" height="1" fill="#0000ff"/>
<rect x="260" y="179" width="3" height="1" fill="#0000ff"/>
<rect x="266" y="179" width="3" height="1" fill="#0000ff"/>
<rect x="272" y="179" width="3" height="1" fill="#0000ff"/>
<rect x="278" y="179" width="3" height="1" fill="#0000ff"/>
<rect x="284" y="179" width="3" height="1" fill="#0000ff"/>
<rect x="290" y="179" width="3" height="1" fill="#0000ff"/>
<rect x="296" y="179" width="3" height="1" fill="#0000ff"/>
<rect x="302" y="179" width="3" height="1" fill="#0000ff"/>
<rect x="308" y="179" width="3" height="1" fill="#0000ff"/>
<rect x="314" y="179" width="3" height="1" fill="#0000ff"/>
<rect x="320" y="179" width="3" height="1" fill="#0000ff"/>
<rect x="326" y="179" width="3" height="1" fill="#0000ff"/>
<rect x="332" y="179" width="3" height="1" fill="#0000ff"/>
<rect x="338" y="179" width="3" height="1" fill="#0000ff"/>
<rect x="344" y="179" width="3" height="1" fill="#0000ff"/>
<rect x="350" y="179" width="3" height="1" fill="#0000ff"/>
<rect x="356" y="179" width="3" height="1" fill="#0000ff"/>
<rect x="362" y="179" width="3" height="1" fill="#0000ff"/>
<rect x="368" y="179" width="3" height="1" fill="#0000ff"/>
<rect x="374" y="179" width="3" height="1" fill="#0000ff"/>
<rect x="380" y="179" width="3" height="1" fill="#0000ff"/>
<rect x="386" y="179" width="3" height="1" fill="#0000ff"/>
<rect x="392" y="179" width="3" height="1" fill="#0000ff"/>
<rect x="398" y="179" width="3" height="1" fill="#0000ff"/>
<rect x="404" y="179" width="3" height="1" fill="#0000ff"/>
<rect x="410" y="179" width="3" height="1" fill="#0000ff"/>
<rect x="416" y="179" width="3" height="1" fill="#0000ff"/>
<rect x="422" y="179" width="3" height="1" fill="#0000ff"/>
<rect x="428" y="179" width="3" height="1" fill="#0000ff"/>
<rect x="434" y="179" width="3" height="1" fill="#0000ff"/>
<rect x="440" y="179" width="3" height="1" fill="#0000ff"/>
<rect x="446" y="179" width="3" height="1" fill="#0000ff"/>
<rect x="452" y="179" width="3" height="1" fill="#0000ff"/>
<rect x="458" y="179" width="3" height="1" fill="#0000ff"/>
<rect x="464" y="179" width="3" height="1" fill="#0000ff"/>
<rect x="470" y="179" width="3" height="1" fill="#0000ff"/>
<rect x="476" y="179" width="3" height="1" fill="#0000ff"/>
<rect x="482" y="179" width="3" height="1" fill="#0000ff"/>
<rect x="488" y="179" width="3" height="1" fill="#0000ff"/>
<rect x="494" y="179" width="3" height="1" fill="#0000ff"/>
<rect x="500" y="179" width="3" height="1" fill="#0000ff"/>
<rect x="506" y="179" width="3" height="1" fill="#0000ff"/>
<rect x="512" y="179" width="3" height="1" fill="#0000ff"/>
<rect x="518" y="179" width="3" height="1" fill="#0000ff"/>
<rect x="524" y="179" width="3" height="1" fill="#0000ff"/>
<rect x="530" y="179" width="3" height="1" fill="#0000ff"/>
<rect x="536" y="179" width="3" height="1" fill="#0000ff"/>
<rect x="542" y="179" width="3" height="1" fill="#0000ff"/>
<rect x="548" y="179" width="3" height="1" fill="#0000ff"/>
<rect x="554" y="179" width="3" height="1" fill="#0000ff"/>
<rect x="560" y="179" width="3" height="1" fill="#0000ff"/>
<rect x="566" y="179" width="3" height="1" fill="#0000ff"/>
<rect x="572" y="179" width="3" height="1" fill="#0000ff"/>
<rect x="578" y="179" width="3" height="1" fill="#0000ff"/>
<rect x="584" y="179" width="3" height="1" fill="#0000ff"/>
<path d="M142 109h2v1h-2zM147 109h1v1h-1zM442 109h3v1h-3zM448 109h3v1h-3zM141 110h1v1h-1zM148 110h2v1h-2zM454 110h2v1h-2zM438 111h1v1h-1zM456 111h1v1h-1zM460 111h3v1h-3zM137 112h1v1h-1zM243 112h3v1h-3zM436 112h2v1h-2zM466 112h3v1h-3zM136 113h1v1h-1zM238 113h2v1h-2zM472 113h2v1h-2zM135 114h1v1h-1zM152 114h1v1h-1zM237 114h1v1h-1zM249 114h2v1h-2zM474 114h1v1h-1zM153 115h1v1h-1zM251 115h1v1h-1zM394 115h2v1h-2zM432 115h1v1h-1zM478 115h3v1h-3zM153 116h1v1h-1zM393 116h1v1h-1zM431 116h1v1h-1zM484 116h1v1h-1zM430 117h1v1h-1zM485 117h2v1h-2zM132 118h1v1h-1zM233 118h1v1h-1zM132 119h1v1h-1zM157 119h1v1h-1zM233 119h1v1h-1zM254 119h1v1h-1zM390 119h1v1h-1zM398 119h1v1h-1zM131 120h1v1h-1zM158 120h1v1h-1zM232 120h1v1h-1zM254 120h1v1h-1zM389 120h1v1h-1zM398 120h1v1h-1zM159 121h1v1h-1zM255 121h1v1h-1zM388 121h1v1h-1zM399 121h1v1h-1zM427 121h1v1h-1zM490 121h1v1h-1zM526 121h3v1h-3zM163 122h3v1h-3zM426 122h1v1h-1zM491 122h1v1h-1zM282 123h2v1h-2zM426 123h1v1h-1zM491 123h1v1h-1zM129 124h1v1h-1zM230 124h1v1h-1zM277 124h2v1h-2zM284 124h1v1h-1zM522 124h1v1h-1zM129 125h1v1h-1zM168 125h1v1h-1zM229 125h1v1h-1zM257 125h1v1h-1zM276 125h1v1h-1zM288 125h1v1h-1zM386 125h1v1h-1zM400 125h1v1h-1zM521 125h1v1h-1zM531 125h1v1h-1zM128 126h1v1h-1zM169 126h1v1h-1zM228 126h1v1h-1zM257 126h1v1h-1zM289 126h2v1h-2zM386 126h1v1h-1zM401 126h1v1h-1zM520 126h1v1h-1zM532 126h1v1h-1zM169 127h1v1h-1zM258 127h1v1h-1zM386 127h1v1h-1zM401 127h1v1h-1zM423 127h1v1h-1zM494 127h1v1h-1zM533 127h1v1h-1zM332 128h2v1h-2zM423 128h1v1h-1zM494 128h1v1h-1zM273 129h1v1h-1zM331 129h1v1h-1zM422 129h1v1h-1zM495 129h1v1h-1zM127 130h1v1h-1zM226 130h1v1h-1zM272 130h1v1h-1zM294 130h1v1h-1zM321 130h1v1h-1zM325 130h3v1h-3zM336 130h1v1h-1zM517 130h1v1h-1zM126 131h1v1h-1zM171 131h1v1h-1zM226 131h1v1h-1zM260 131h1v1h-1zM271 131h1v1h-1zM295 131h2v1h-2zM320 131h1v1h-1zM337 131h1v1h-1zM384 131h1v1h-1zM402 131h1v1h-1zM516 131h1v1h-1zM537 131h1v1h-1zM126 132h1v1h-1zM172 132h1v1h-1zM225 132h1v1h-1zM261 132h1v1h-1zM319 132h1v1h-1zM338 132h1v1h-1zM384 132h1v1h-1zM403 132h1v1h-1zM515 132h1v1h-1zM538 132h1v1h-1zM172 133h1v1h-1zM262 133h1v1h-1zM384 133h1v1h-1zM403 133h1v1h-1zM421 133h1v1h-1zM497 133h1v1h-1zM538 133h1v1h-1zM91 134h3v1h-3zM268 134h1v1h-1zM420 134h1v1h-1zM498 134h1v1h-1zM511 134h1v1h-1zM97 135h2v1h-2zM266 135h2v1h-2zM299 135h1v1h-1zM420 135h1v1h-1zM499 135h1v1h-1zM509 135h2v1h-2zM87 136h1v1h-1zM99 136h1v1h-1zM124 136h1v1h-1zM223 136h1v1h-1zM300 136h1v1h-1zM315 136h1v1h-1zM341 136h1v1h-1zM85 137h2v1h-2zM124 137h1v1h-1zM173 137h1v1h-1zM223 137h1v1h-1zM301 137h1v1h-1zM314 137h1v1h-1zM341 137h1v1h-1zM382 137h1v1h-1zM405 137h1v1h-1zM503 137h3v1h-3zM540 137h1v1h-1zM123 138h1v1h-1zM173 138h1v1h-1zM222 138h1v1h-1zM313 138h1v1h-1zM342 138h1v1h-1zM382 138h1v1h-1zM405 138h1v1h-1zM541 138h1v1h-1zM81 139h1v1h-1zM174 139h1v1h-1zM362 139h2v1h-2zM381 139h1v1h-1zM406 139h1v1h-1zM419 139h1v1h-1zM541 139h1v1h-1zM79 140h2v1h-2zM102 140h1v1h-1zM361 140h1v1h-1zM418 140h1v1h-1zM103 141h1v1h-1zM304 141h1v1h-1zM367 141h1v1h-1zM418 141h1v1h-1zM104 142h1v1h-1zM121 142h1v1h-1zM220 142h1v1h-1zM304 142h1v1h-1zM310 142h1v1h-1zM344 142h1v1h-1zM368 142h1v1h-1zM75 143h1v1h-1zM121 143h1v1h-1zM175 143h1v1h-1zM220 143h1v1h-1zM305 143h1v1h-1zM310 143h1v1h-1zM344 143h1v1h-1zM369 143h1v1h-1zM379 143h1v1h-1zM408 143h1v1h-1zM543 143h1v1h-1zM74 144h1v1h-1zM120 144h1v1h-1zM175 144h1v1h-1zM219 144h1v1h-1zM309 144h1v1h-1zM344 144h1v1h-1zM358 144h1v1h-1zM378 144h1v1h-1zM408 144h1v1h-1zM544 144h1v1h-1zM73 145h1v1h-1zM175 145h1v1h-1zM358 145h1v1h-1zM378 145h1v1h-1zM409 145h1v1h-1zM415 145h1v1h-1zM544 145h1v1h-1zM106 146h1v1h-1zM357 146h1v1h-1zM372 146h1v1h-1zM414 146h1v1h-1zM107 147h1v1h-1zM373 147h2v1h-2zM413 147h1v1h-1zM108 148h1v1h-1zM118 148h1v1h-1zM217 148h1v1h-1zM346 148h1v1h-1zM70 149h1v1h-1zM117 149h1v1h-1zM176 149h1v1h-1zM216 149h1v1h-1zM347 149h1v1h-1zM546 149h1v1h-1zM69 150h1v1h-1zM117 150h1v1h-1zM177 150h1v1h-1zM216 150h1v1h-1zM348 150h1v1h-1zM354 150h1v1h-1zM547 150h1v1h-1zM68 151h1v1h-1zM177 151h1v1h-1zM352 151h2v1h-2zM547 151h1v1h-1zM111 152h2v1h-2zM113 153h1v1h-1zM213 154h1v1h-1zM65 155h1v1h-1zM178 155h1v1h-1zM212 155h1v1h-1zM549 155h1v1h-1zM64 156h1v1h-1zM178 156h1v1h-1zM212 156h1v1h-1zM549 156h1v1h-1zM64 157h1v1h-1zM179 157h1v1h-1zM549 157h1v1h-1zM59 160h2v1h-2zM208 160h1v1h-1zM53 161h2v1h-2zM58 161h1v1h-1zM180 161h1v1h-1zM206 161h2v1h-2zM551 161h1v1h-1zM8 162h1v1h-1zM12 162h1v1h-1zM52 162h1v1h-1zM180 162h1v1h-1zM552 162h1v1h-1zM6 163h2v1h-2zM13 163h1v1h-1zM181 163h1v1h-1zM202 163h1v1h-1zM14 164h1v1h-1zM200 164h2v1h-2zM1 165h2v1h-2zM48 165h1v1h-1zM0 166h1v1h-1zM47 166h1v1h-1zM47 167h1v1h-1zM183 167h1v1h-1zM196 167h1v1h-1zM16 168h1v1h-1zM183 168h1v1h-1zM195 168h1v1h-1zM17 169h1v1h-1zM184 169h1v1h-1zM194 169h1v1h-1zM17 170h1v1h-1zM44 171h1v1h-1zM44 172h1v1h-1zM188 172h3v1h-3zM43 173h1v1h-1zM19 174h1v1h-1zM20 175h1v1h-1zM20 176h1v1h-1zM41 177h1v1h-1zM40 178h1v1h-1zM40 179h1v1h-1zM22 180h1v1h-1zM23 181h1v1h-1zM24 182h1v1h-1zM36 183h1v1h-1zM28 184h1v1h-1zM34 184h2v1h-2zM29 185h2v1h-2z" fill="#000"/>
<polyline points="0.5,166.8 5.5,162.5 10.5,161.0 12.5,164.2 15.5,173.0 20.5,183.0 22.5,185.5 25.5,185.5 30.5,186.2 33.5,185.5 35.5,183.0 40.5,174.2 45.5,165.0 50.5,161.8 55.5,161.8 60.5,160.0 65.5,151.8 70.5,146.8 75.5,141.0 80.5,140.0 85.5,136.2 90.5,135.0 93.5,133.8 95.5,135.0 100.5,140.5 105.5,150.5 107.5,154.0 110.5,154.0 113.5,153.8 115.5,150.5 120.5,140.5 125.5,128.0 130.5,116.8 135.5,111.0 140.5,110.0 144.5,108.8 147.5,111.0 150.5,116.8 153.5,121.0 157.5,122.5 160.5,123.5 165.5,123.0 167.5,125.5 170.5,135.5 173.5,146.8 175.5,156.8 178.5,166.8 180.5,171.0 183.5,172.5 187.5,174.2 190.5,171.8 193.5,168.0 196.5,164.2 200.5,164.2 204.5,163.0 207.5,159.2 210.5,156.8 213.5,150.5 217.5,144.2 220.5,139.2 223.5,131.8 226.5,125.5 230.5,119.2 233.5,114.2 236.5,112.5 240.5,113.0 244.5,113.0 247.5,115.0 250.5,116.0 252.5,120.5 255.5,128.0 258.5,134.2 260.5,136.0 263.5,137.5 265.5,136.8 268.5,133.0 272.5,126.8 275.5,122.5 278.5,122.5 281.5,125.5 285.5,126.0 288.5,127.5 291.5,130.0 294.5,134.2 297.5,135.5 300.5,141.8 303.5,146.8 305.5,146.8 308.5,143.0 311.5,138.0 314.5,134.2 317.5,131.0 320.5,130.0 323.5,131.8 327.5,131.8 330.5,125.5 333.5,130.0 336.5,134.2 339.5,136.8 342.5,146.8 344.5,153.5 347.5,153.5 350.5,153.0 353.5,150.0 356.5,144.2 359.5,138.0 362.5,138.0 365.5,144.2 368.5,148.0 372.5,148.5 375.5,148.0 378.5,143.0 381.5,131.8 384.5,124.2 387.5,118.0 390.5,115.5 393.5,115.0 395.5,117.5 397.5,124.2 400.5,135.5 403.5,141.8 406.5,146.0 410.5,150.0 413.5,145.5 416.5,140.0 419.5,133.0 422.5,124.2 425.5,119.2 428.5,116.0 432.5,113.0 436.5,111.8 440.5,110.0 443.5,108.5 446.5,110.0 450.5,111.0 455.5,112.0 460.5,112.1 465.5,113.0 470.5,114.2 475.5,116.0 480.5,116.2 483.5,117.5 486.5,120.0 489.5,124.2 492.5,130.5 495.5,135.5 498.5,138.8 500.5,139.2 503.5,137.5 506.5,136.0 509.5,135.5 512.5,133.0 515.5,131.8 518.5,126.8 520.5,123.0 522.5,120.0 524.5,119.2 526.5,121.8 528.5,126.8 530.5,130.0 533.5,130.5 535.5,131.8 538.5,138.0 540.5,143.0 543.5,149.2 545.5,153.0 547.5,159.2 549.5,166.0 552.5,167.5" fill="none" stroke="#ff0000" stroke-width="2"/>
<rect x="0" y="405" width="1" height="13" fill="#ff0000"/>
<rect x="-1" y="408" width="3" height="8" fill="#ff0000"/>
<rect x="3" y="406" width="1" height="17" fill="#ff0000"/>
<rect x="2" y="407" width="3" height="9" fill="#ff0000"/>
<rect x="6" y="413" width="1" height="10" fill="#ff0000"/>
<rect x="5" y="414" width="3" height="7" fill="#ff0000"/>
<rect x="9" y="420" width="1" height="12" fill="#ff0000"/>
<rect x="8" y="421" width="3" height="8" fill="#ff0000"/>
<rect x="12" y="433" width="1" height="22" fill="#ff0000"/>
<rect x="11" y="434" width="3" height="17" fill="#ff0000"/>
<rect x="15" y="452" width="1" height="32" fill="#ff0000"/>
<rect x="14" y="454" width="3" height="27" fill="#ff0000"/>
<rect x="18" y="469" width="1" height="22" fill="#009400"/>
<rect x="17" y="472" width="3" height="13" fill="#009400"/>
<rect x="18" y="473" width="1" height="11" fill="#fff"/>
<rect x="21" y="470" width="1" height="16" fill="#ff0000"/>
<rect x="20" y="474" width="3" height="12" fill="#ff0000"/>
<rect x="24" y="478" width="1" height="24" fill="#009400"/>
<rect x="23" y="484" width="3" height="1" fill="#009400"/>
<rect x="27" y="478" width="1" height="16" fill="#ff0000"/>
<rect x="26" y="483" width="3" height="9" fill="#ff0000"/>
<rect x="30" y="492" width="1" height="19" fill="#ff0000"/>
<rect x="29" y="494" width="3" height="11" fill="#ff0000"/>
<rect x="33" y="499" width="1" height="31" fill="#009400"/>
<rect x="32" y="501" width="3" height="10" fill="#009400"/>
<rect x="33" y="502" width="1" height="8" fill="#fff"/>
<rect x="36" y="496" width="1" height="15" fill="#009400"/>
<rect x="35" y="499" width="3" height="1" fill="#009400"/>
<rect x="39" y="467" width="1" height="31" fill="#009400"/>
<rect x="38" y="467" width="3" height="31" fill="#009400"/>
<rect x="39" y="468" width="1" height="29" fill="#fff"/>
<rect x="42" y="461" width="1" height="20" fill="#ff0000"/>
<rect x="41" y="464" width="3" height="12" fill="#ff0000"/>
<rect x="45" y="472" width="1" height="12" fill="#009400"/>
<rect x="44" y="474" width="3" height="1" fill="#009400"/>
<rect x="48" y="472" width="1" height="18" fill="#ff0000"/>
<rect x="47" y="475" width="3" height="10" fill="#ff0000"/>
<rect x="51" y="485" width="1" height="11" fill="#ff0000"/>
<rect x="50" y="486" width="3" height="3" fill="#ff0000"/>
<rect x="54" y="472" width="1" height="17" fill="#009400"/>
<rect x="53" y="476" width="3" height="13" fill="#009400"/>
<rect x="54" y="477" width="1" height="11" fill="#fff"/>
<rect x="57" y="472" width="1" height="6" fill="#009400"/>
<rect x="56" y="473" width="3" height="2" fill="#009400"/>
<rect x="60" y="458" width="1" height="15" fill="#009400"/>
<rect x="59" y="459" width="3" height="14" fill="#009400"/>
<rect x="60" y="460" width="1" height="12" fill="#fff"/>
<rect x="63" y="454" width="1" height="2" fill="#009400"/>
<rect x="62" y="455" width="3" height="1" fill="#009400"/>
<rect x="66" y="456" width="1" height="13" fill="#ff0000"/>
<rect x="65" y="456" width="3" height="12" fill="#ff0000"/>
<rect x="69" y="464" width="1" height="11" fill="#ff0000"/>
<rect x="68" y="468" width="3" height="6" fill="#ff0000"/>
<rect x="72" y="472" width="1" height="9" fill="#009400"/>
<rect x="71" y="474" width="3" height="2" fill="#009400"/>
<rect x="75" y="463" width="1" height="19" fill="#ff0000"/>
<rect x="74" y="473" width="3" height="8" fill="#ff0000"/>
<rect x="78" y="478" width="1" height="8" fill="#ff0000"/>
<rect x="77" y="481" width="3" height="1" fill="#ff0000"/>
<rect x="81" y="473" width="1" height="10" fill="#009400"/>
<rect x="80" y="475" width="3" height="7" fill="#009400"/>
<rect x="81" y="476" width="1" height="5" fill="#fff"/>
<rect x="83" y="473" width="1" height="7" fill="#ff0000"/>
<rect x="82" y="477" width="3" height="1" fill="#ff0000"/>
<rect x="86" y="476" width="1" height="10" fill="#009400"/>
<rect x="85" y="477" width="3" height="1" fill="#009400"/>
<rect x="89" y="471" width="1" height="7" fill="#009400"/>
<rect x="88" y="472" width="3" height="6" fill="#009400"/>
<rect x="89" y="473" width="1" height="4" fill="#fff"/>
<rect x="92" y="466" width="1" height="6" fill="#009400"/>
<rect x="91" y="469" width="3" height="1" fill="#009400"/>
<rect x="95" y="469" width="1" height="7" fill="#ff0000"/>
<rect x="94" y="469" width="3" height="7" fill="#ff0000"/>
<rect x="98" y="474" width="1" height="5" fill="#ff0000"/>
<rect x="97" y="475" width="3" height="4" fill="#ff0000"/>
<rect x="101" y="477" width="1" height="5" fill="#009400"/>
<rect x="100" y="478" width="3" height="1" fill="#009400"/>
<rect x="104" y="477" width="1" height="3" fill="#ff0000"/>
<rect x="103" y="478" width="3" height="1" fill="#ff0000"/>
<rect x="107" y="471" width="1" height="7" fill="#009400"/>
<rect x="106" y="472" width="3" height="6" fill="#009400"/>
<rect x="107" y="473" width="1" height="4" fill="#fff"/>
<rect x="110" y="468" width="1" height="6" fill="#009400"/>
<rect x="109" y="469" width="3" height="2" fill="#009400"/>
<rect x="113" y="470" width="1" height="3" fill="#ff0000"/>
<rect x="112" y="471" width="3" height="1" fill="#ff0000"/>
<rect x="116" y="464" width="1" height="8" fill="#009400"/>
<rect x="115" y="464" width="3" height="8" fill="#009400"/>
<rect x="116" y="465" width="1" height="6" fill="#fff"/>
<rect x="119" y="457" width="1" height="4" fill="#009400"/>
<rect x="118" y="458" width="3" height="1" fill="#009400"/>
<rect x="122" y="452" width="1" height="8" fill="#009400"/>
<rect x="121" y="455" width="3" height="2" fill="#009400"/>
<rect x="125" y="452" width="1" height="9" fill="#009400"/>
<rect x="124" y="454" width="3" height="3" fill="#009400"/>
<rect x="125" y="455" width="1" height="1" fill="#fff"/>
<rect x="128" y="449" width="1" height="5" fill="#ff0000"/>
<rect x="127" y="452" width="3" height="1" fill="#ff0000"/>
<rect x="131" y="450" width="1" height="4" fill="#009400"/>
<rect x="130" y="451" width="3" height="1" fill="#009400"/>
<rect x="134" y="440" width="1" height="9" fill="#009400"/>
<rect x="133" y="441" width="3" height="8" fill="#009400"/>
<rect x="134" y="442" width="1" height="6" fill="#fff"/>
<rect x="137" y="435" width="1" height="7" fill="#009400"/>
<rect x="136" y="435" width="3" height="7" fill="#009400"/>
<rect x="137" y="436" width="1" height="5" fill="#fff"/>
<rect x="140" y="429" width="1" height="6" fill="#009400"/>
<rect x="139" y="429" width="3" height="6" fill="#009400"/>
<rect x="140" y="430" width="1" height="4" fill="#fff"/>
<rect x="143" y="421" width="1" height="5" fill="#009400"/>
<rect x="142" y="422" width="3" height="4" fill="#009400"/>
<rect x="143" y="423" width="1" height="2" fill="#fff"/>
<rect x="146" y="417" width="1" height="10" fill="#009400"/>
<rect x="145" y="421" width="3" height="1" fill="#009400"/>
<rect x="149" y="418" width="1" height="20" fill="#ff0000"/>
<rect x="148" y="421" width="3" height="17" fill="#ff0000"/>
<rect x="152" y="433" width="1" height="13" fill="#009400"/>
<rect x="151" y="436" width="3" height="3" fill="#009400"/>
<rect x="152" y="437" width="1" height="1" fill="#fff"/>
<rect x="155" y="424" width="1" height="10" fill="#009400"/>
<rect x="154" y="424" width="3" height="10" fill="#009400"/>
<rect x="155" y="425" width="1" height="8" fill="#fff"/>
<rect x="158" y="415" width="1" height="7" fill="#009400"/>
<rect x="157" y="419" width="3" height="3" fill="#009400"/>
<rect x="158" y="420" width="1" height="1" fill="#fff"/>
<rect x="161" y="416" width="1" height="7" fill="#ff0000"/>
<rect x="160" y="417" width="3" height="6" fill="#ff0000"/>
<rect x="164" y="423" width="1" height="16" fill="#ff0000"/>
<rect x="163" y="424" width="3" height="9" fill="#ff0000"/>
<rect x="167" y="432" width="1" height="12" fill="#ff0000"/>
<rect x="166" y="434" width="3" height="10" fill="#ff0000"/>
<rect x="169" y="443" width="1" height="16" fill="#ff0000"/>
<rect x="168" y="444" width="3" height="8" fill="#ff0000"/>
<rect x="172" y="444" width="1" height="8" fill="#009400"/>
<rect x="171" y="445" width="3" height="7" fill="#009400"/>
<rect x="172" y="446" width="1" height="5" fill="#fff"/>
<rect x="175" y="444" width="1" height="15" fill="#ff0000"/>
<rect x="174" y="444" width="3" height="15" fill="#ff0000"/>
<rect x="178" y="458" width="1" height="22" fill="#ff0000"/>
<rect x="177" y="459" width="3" height="14" fill="#ff0000"/>
<rect x="181" y="467" width="1" height="17" fill="#009400"/>
<rect x="180" y="468" width="3" height="8" fill="#009400"/>
<rect x="181" y="469" width="1" height="6" fill="#fff"/>
<rect x="184" y="454" width="1" height="14" fill="#009400"/>
<rect x="183" y="461" width="3" height="7" fill="#009400"/>
<rect x="184" y="462" width="1" height="5" fill="#fff"/>
<rect x="187" y="451" width="1" height="12" fill="#ff0000"/>
<rect x="186" y="458" width="3" height="2" fill="#ff0000"/>
<rect x="190" y="456" width="1" height="13" fill="#ff0000"/>
<rect x="189" y="462" width="3" height="3" fill="#ff0000"/>
<rect x="193" y="461" width="1" height="7" fill="#009400"/>
<rect x="192" y="461" width="3" height="3" fill="#009400"/>
<rect x="193" y="462" width="1" height="1" fill="#fff"/>
<rect x="196" y="452" width="1" height="6" fill="#009400"/>
<rect x="195" y="454" width="3" height="4" fill="#009400"/>
<rect x="196" y="455" width="1" height="2" fill="#fff"/>
<rect x="199" y="453" width="1" height="8" fill="#ff0000"/>
<rect x="198" y="453" width="3" height="8" fill="#ff0000"/>
<rect x="202" y="460" width="1" height="7" fill="#009400"/>
<rect x="201" y="461" width="3" height="1" fill="#009400"/>
<rect x="205" y="451" width="1" height="10" fill="#009400"/>
<rect x="204" y="452" width="3" height="9" fill="#009400"/>
<rect x="205" y="453" width="1" height="7" fill="#fff"/>
<rect x="208" y="443" width="1" height="9" fill="#009400"/>
<rect x="207" y="447" width="3" height="3" fill="#009400"/>
<rect x="208" y="448" width="1" height="1" fill="#fff"/>
<rect x="211" y="442" width="1" height="4" fill="#009400"/>
<rect x="210" y="442" width="3" height="4" fill="#009400"/>
<rect x="211" y="443" width="1" height="2" fill="#fff"/>
<rect x="214" y="437" width="1" height="5" fill="#009400"/>
<rect x="213" y="437" width="3" height="5" fill="#009400"/>
<rect x="214" y="438" width="1" height="3" fill="#fff"/>
<rect x="217" y="435" width="1" height="6" fill="#ff0000"/>
<rect x="216" y="435" width="3" height="3" fill="#ff0000"/>
<rect x="220" y="436" width="1" height="6" fill="#ff0000"/>
<rect x="219" y="437" width="3" height="2" fill="#ff0000"/>
<rect x="223" y="432" width="1" height="7" fill="#009400"/>
<rect x="222" y="432" width="3" height="7" fill="#009400"/>
<rect x="223" y="433" width="1" height="5" fill="#fff"/>
<rect x="226" y="428" width="1" height="3" fill="#009400"/>
<rect x="225" y="428" width="3" height="3" fill="#009400"/>
<rect x="226" y="429" width="1" height="1" fill="#fff"/>
<rect x="229" y="419" width="1" height="8" fill="#009400"/>
<rect x="228" y="421" width="3" height="6" fill="#009400"/>
<rect x="229" y="422" width="1" height="4" fill="#fff"/>
<rect x="232" y="414" width="1" height="13" fill="#009400"/>
<rect x="231" y="414" width="3" height="13" fill="#009400"/>
<rect x="232" y="415" width="1" height="11" fill="#fff"/>
<rect x="235" y="408" width="1" height="8" fill="#ff0000"/>
<rect x="234" y="412" width="3" height="4" fill="#ff0000"/>
<rect x="238" y="408" width="1" height="13" fill="#009400"/>
<rect x="237" y="409" width="3" height="8" fill="#009400"/>
<rect x="238" y="410" width="1" height="6" fill="#fff"/>
<rect x="241" y="403" width="1" height="22" fill="#009400"/>
<rect x="240" y="406" width="3" height="6" fill="#009400"/>
<rect x="241" y="407" width="1" height="4" fill="#fff"/>
<rect x="244" y="403" width="1" height="9" fill="#009400"/>
<rect x="243" y="406" width="3" height="3" fill="#009400"/>
<rect x="244" y="407" width="1" height="1" fill="#fff"/>
<rect x="247" y="404" width="1" height="11" fill="#ff0000"/>
<rect x="246" y="406" width="3" height="9" fill="#ff0000"/>
<rect x="250" y="407" width="1" height="10" fill="#009400"/>
<rect x="249" y="408" width="3" height="7" fill="#009400"/>
<rect x="250" y="409" width="1" height="5" fill="#fff"/>
<rect x="252" y="406" width="1" height="34" fill="#ff0000"/>
<rect x="251" y="406" width="3" height="32" fill="#ff0000"/>
<rect x="255" y="427" width="1" height="12" fill="#009400"/>
<rect x="254" y="428" width="3" height="9" fill="#009400"/>
<rect x="255" y="429" width="1" height="7" fill="#fff"/>
<rect x="258" y="423" width="1" height="5" fill="#009400"/>
<rect x="257" y="426" width="3" height="2" fill="#009400"/>
<rect x="261" y="414" width="1" height="10" fill="#009400"/>
<rect x="260" y="418" width="3" height="6" fill="#009400"/>
<rect x="261" y="419" width="1" height="4" fill="#fff"/>
<rect x="264" y="409" width="1" height="12" fill="#009400"/>
<rect x="263" y="409" width="3" height="9" fill="#009400"/>
<rect x="264" y="410" width="1" height="7" fill="#fff"/>
<rect x="267" y="405" width="1" height="11" fill="#ff0000"/>
<rect x="266" y="407" width="3" height="5" fill="#ff0000"/>
<rect x="270" y="406" width="1" height="10" fill="#ff0000"/>
<rect x="269" y="412" width="3" height="1" fill="#ff0000"/>
<rect x="273" y="403" width="1" height="7" fill="#009400"/>
<rect x="272" y="405" width="3" height="5" fill="#009400"/>
<rect x="273" y="406" width="1" height="3" fill="#fff"/>
<rect x="276" y="399" width="1" height="7" fill="#ff0000"/>
<rect x="275" y="403" width="3" height="3" fill="#ff0000"/>
<rect x="279" y="405" width="1" height="5" fill="#009400"/>
<rect x="278" y="405" width="3" height="1" fill="#009400"/>
<rect x="282" y="406" width="1" height="12" fill="#ff0000"/>
<rect x="281" y="407" width="3" height="10" fill="#ff0000"/>
<rect x="285" y="406" width="1" height="13" fill="#009400"/>
<rect x="284" y="406" width="3" height="12" fill="#009400"/>
<rect x="285" y="407" width="1" height="10" fill="#fff"/>
<rect x="288" y="402" width="1" height="7" fill="#ff0000"/>
<rect x="287" y="404" width="3" height="4" fill="#ff0000"/>
<rect x="291" y="404" width="1" height="9" fill="#ff0000"/>
<rect x="290" y="406" width="3" height="6" fill="#ff0000"/>
<rect x="294" y="411" width="1" height="15" fill="#ff0000"/>
<rect x="293" y="411" width="3" height="7" fill="#ff0000"/>
<rect x="297" y="414" width="1" height="13" fill="#ff0000"/>
<rect x="296" y="414" width="3" height="6" fill="#ff0000"/>
<rect x="300" y="420" width="1" height="16" fill="#ff0000"/>
<rect x="299" y="424" width="3" height="2" fill="#ff0000"/>
<rect x="303" y="416" width="1" height="9" fill="#009400"/>
<rect x="302" y="416" width="3" height="8" fill="#009400"/>
<rect x="303" y="417" width="1" height="6" fill="#fff"/>
<rect x="306" y="405" width="1" height="9" fill="#009400"/>
<rect x="305" y="405" width="3" height="9" fill="#009400"/>
<rect x="306" y="406" width="1" height="7" fill="#fff"/>
<rect x="309" y="404" width="1" height="4" fill="#ff0000"/>
<rect x="308" y="404" width="3" height="2" fill="#ff0000"/>
<rect x="312" y="406" width="1" height="6" fill="#ff0000"/>
<rect x="311" y="409" width="3" height="2" fill="#ff0000"/>
<rect x="315" y="409" width="1" height="9" fill="#ff0000"/>
<rect x="314" y="409" width="3" height="7" fill="#ff0000"/>
<rect x="318" y="406" width="1" height="13" fill="#009400"/>
<rect x="317" y="409" width="3" height="7" fill="#009400"/>
<rect x="318" y="410" width="1" height="5" fill="#fff"/>
<rect x="321" y="401" width="1" height="10" fill="#009400"/>
<rect x="320" y="404" width="3" height="5" fill="#009400"/>
<rect x="321" y="405" width="1" height="3" fill="#fff"/>
<rect x="324" y="401" width="1" height="8" fill="#ff0000"/>
<rect x="323" y="404" width="3" height="5" fill="#ff0000"/>
<rect x="327" y="402" width="1" height="9" fill="#009400"/>
<rect x="326" y="404" width="3" height="5" fill="#009400"/>
<rect x="327" y="405" width="1" height="3" fill="#fff"/>
<rect x="330" y="402" width="1" height="7" fill="#ff0000"/>
<rect x="329" y="402" width="3" height="3" fill="#ff0000"/>
<rect x="333" y="405" width="1" height="10" fill="#ff0000"/>
<rect x="332" y="406" width="3" height="9" fill="#ff0000"/>
<rect x="335" y="411" width="1" height="5" fill="#009400"/>
<rect x="334" y="414" width="3" height="2" fill="#009400"/>
<rect x="338" y="411" width="1" height="7" fill="#ff0000"/>
<rect x="337" y="412" width="3" height="2" fill="#ff0000"/>
<rect x="341" y="414" width="1" height="12" fill="#ff0000"/>
<rect x="340" y="414" width="3" height="12" fill="#ff0000"/>
<rect x="344" y="423" width="1" height="9" fill="#009400"/>
<rect x="343" y="423" width="3" height="3" fill="#009400"/>
<rect x="344" y="424" width="1" height="1" fill="#fff"/>
<rect x="347" y="416" width="1" height="5" fill="#009400"/>
<rect x="346" y="416" width="3" height="3" fill="#009400"/>
<rect x="347" y="417" width="1" height="1" fill="#fff"/>
<rect x="350" y="408" width="1" height="9" fill="#009400"/>
<rect x="349" y="410" width="3" height="4" fill="#009400"/>
<rect x="350" y="411" width="1" height="2" fill="#fff"/>
<rect x="353" y="408" width="1" height="5" fill="#ff0000"/>
<rect x="352" y="410" width="3" height="2" fill="#ff0000"/>
<rect x="356" y="411" width="1" height="2" fill="#ff0000"/>
<rect x="355" y="412" width="3" height="1" fill="#ff0000"/>
<rect x="359" y="406" width="1" height="10" fill="#009400"/>
<rect x="358" y="408" width="3" height="5" fill="#009400"/>
<rect x="359" y="409" width="1" height="3" fill="#fff"/>
<rect x="362" y="409" width="1" height="6" fill="#ff0000"/>
<rect x="361" y="409" width="3" height="6" fill="#ff0000"/>
<rect x="365" y="415" width="1" height="5" fill="#ff0000"/>
<rect x="364" y="415" width="3" height="5" fill="#ff0000"/>
<rect x="368" y="416" width="1" height="9" fill="#009400"/>
<rect x="367" y="416" width="3" height="6" fill="#009400"/>
<rect x="368" y="417" width="1" height="4" fill="#fff"/>
<rect x="371" y="411" width="1" height="6" fill="#009400"/>
<rect x="370" y="412" width="3" height="1" fill="#009400"/>
<rect x="374" y="407" width="1" height="8" fill="#009400"/>
<rect x="373" y="408" width="3" height="4" fill="#009400"/>
<rect x="374" y="409" width="1" height="2" fill="#fff"/>
<rect x="377" y="407" width="1" height="5" fill="#009400"/>
<rect x="376" y="408" width="3" height="2" fill="#009400"/>
<rect x="380" y="402" width="1" height="7" fill="#009400"/>
<rect x="379" y="402" width="3" height="7" fill="#009400"/>
<rect x="380" y="403" width="1" height="5" fill="#fff"/>
<rect x="383" y="398" width="1" height="4" fill="#009400"/>
<rect x="382" y="399" width="3" height="2" fill="#009400"/>
<rect x="386" y="393" width="1" height="8" fill="#009400"/>
<rect x="385" y="393" width="3" height="8" fill="#009400"/>
<rect x="386" y="394" width="1" height="6" fill="#fff"/>
<rect x="389" y="388" width="1" height="6" fill="#009400"/>
<rect x="388" y="391" width="3" height="1" fill="#009400"/>
<rect x="392" y="389" width="1" height="7" fill="#ff0000"/>
<rect x="391" y="392" width="3" height="1" fill="#ff0000"/>
<rect x="395" y="389" width="1" height="7" fill="#ff0000"/>
<rect x="394" y="393" width="3" height="2" fill="#ff0000"/>
<rect x="398" y="394" width="1" height="50" fill="#ff0000"/>
<rect x="397" y="394" width="3" height="32" fill="#ff0000"/>
<rect x="401" y="425" width="1" height="44" fill="#009400"/>
<rect x="400" y="425" width="3" height="14" fill="#009400"/>
<rect x="401" y="426" width="1" height="12" fill="#fff"/>
<rect x="404" y="417" width="1" height="15" fill="#ff0000"/>
<rect x="403" y="418" width="3" height="7" fill="#ff0000"/>
<rect x="407" y="422" width="1" height="28" fill="#009400"/>
<rect x="406" y="422" width="3" height="3" fill="#009400"/>
<rect x="407" y="423" width="1" height="1" fill="#fff"/>
<rect x="410" y="419" width="1" height="3" fill="#ff0000"/>
<rect x="409" y="420" width="3" height="2" fill="#ff0000"/>
<rect x="413" y="408" width="1" height="15" fill="#009400"/>
<rect x="412" y="411" width="3" height="11" fill="#009400"/>
<rect x="413" y="412" width="1" height="9" fill="#fff"/>
<rect x="416" y="396" width="1" height="14" fill="#009400"/>
<rect x="415" y="401" width="3" height="9" fill="#009400"/>
<rect x="416" y="402" width="1" height="7" fill="#fff"/>
<rect x="419" y="398" width="1" height="7" fill="#009400"/>
<rect x="418" y="398" width="3" height="4" fill="#009400"/>
<rect x="419" y="399" width="1" height="2" fill="#fff"/>
<rect x="421" y="386" width="1" height="18" fill="#009400"/>
<rect x="420" y="391" width="3" height="7" fill="#009400"/>
<rect x="421" y="392" width="1" height="5" fill="#fff"/>
<rect x="424" y="386" width="1" height="8" fill="#ff0000"/>
<rect x="423" y="391" width="3" height="1" fill="#ff0000"/>
<rect x="427" y="391" width="1" height="10" fill="#ff0000"/>
<rect x="426" y="392" width="3" height="4" fill="#ff0000"/>
<rect x="430" y="384" width="1" height="15" fill="#009400"/>
<rect x="429" y="386" width="3" height="11" fill="#009400"/>
<rect x="430" y="387" width="1" height="9" fill="#fff"/>
<rect x="433" y="379" width="1" height="9" fill="#009400"/>
<rect x="432" y="379" width="3" height="8" fill="#009400"/>
<rect x="433" y="380" width="1" height="6" fill="#fff"/>
<rect x="436" y="373" width="1" height="6" fill="#009400"/>
<rect x="435" y="375" width="3" height="4" fill="#009400"/>
<rect x="436" y="376" width="1" height="2" fill="#fff"/>
<rect x="439" y="351" width="1" height="23" fill="#009400"/>
<rect x="438" y="352" width="3" height="22" fill="#009400"/>
<rect x="439" y="353" width="1" height="20" fill="#fff"/>
<rect x="442" y="340" width="1" height="16" fill="#009400"/>
<rect x="441" y="341" width="3" height="8" fill="#009400"/>
<rect x="442" y="342" width="1" height="6" fill="#fff"/>
<rect x="445" y="330" width="1" height="18" fill="#009400"/>
<rect x="444" y="331" width="3" height="7" fill="#009400"/>
<rect x="445" y="332" width="1" height="5" fill="#fff"/>
<rect x="448" y="321" width="1" height="25" fill="#ff0000"/>
<rect x="447" y="328" width="3" height="13" fill="#ff0000"/>
<rect x="451" y="314" width="1" height="30" fill="#009400"/>
<rect x="450" y="315" width="3" height="29" fill="#009400"/>
<rect x="451" y="316" width="1" height="27" fill="#fff"/>
<rect x="454" y="291" width="1" height="23" fill="#009400"/>
<rect x="453" y="301" width="3" height="13" fill="#009400"/>
<rect x="454" y="302" width="1" height="11" fill="#fff"/>
<rect x="457" y="282" width="1" height="24" fill="#009400"/>
<rect x="456" y="297" width="3" height="2" fill="#009400"/>
<rect x="460" y="284" width="1" height="25" fill="#009400"/>
<rect x="459" y="285" width="3" height="7" fill="#009400"/>
<rect x="460" y="286" width="1" height="5" fill="#fff"/>
<rect x="463" y="277" width="1" height="13" fill="#ff0000"/>
<rect x="462" y="286" width="3" height="4" fill="#ff0000"/>
<rect x="466" y="289" width="1" height="20" fill="#009400"/>
<rect x="465" y="290" width="3" height="2" fill="#009400"/>
<rect x="469" y="281" width="1" height="15" fill="#ff0000"/>
<rect x="468" y="289" width="3" height="3" fill="#ff0000"/>
<rect x="472" y="289" width="1" height="17" fill="#009400"/>
<rect x="471" y="292" width="3" height="2" fill="#009400"/>
<rect x="475" y="286" width="1" height="13" fill="#ff0000"/>
<rect x="474" y="293" width="3" height="4" fill="#ff0000"/>
<rect x="478" y="266" width="1" height="25" fill="#009400"/>
<rect x="477" y="266" width="3" height="23" fill="#009400"/>
<rect x="478" y="267" width="1" height="21" fill="#fff"/>
<rect x="481" y="252" width="1" height="19" fill="#ff0000"/>
<rect x="480" y="269" width="3" height="2" fill="#ff0000"/>
<rect x="484" y="271" width="1" height="33" fill="#ff0000"/>
<rect x="483" y="272" width="3" height="12" fill="#ff0000"/>
<rect x="487" y="281" width="1" height="23" fill="#ff0000"/>
<rect x="486" y="281" width="3" height="17" fill="#ff0000"/>
<rect x="490" y="292" width="1" height="19" fill="#ff0000"/>
<rect x="489" y="297" width="3" height="14" fill="#ff0000"/>
<rect x="493" y="300" width="1" height="17" fill="#009400"/>
<rect x="492" y="300" width="3" height="11" fill="#009400"/>
<rect x="493" y="301" width="1" height="9" fill="#fff"/>
<rect x="496" y="293" width="1" height="6" fill="#009400"/>
<rect x="495" y="294" width="3" height="5" fill="#009400"/>
<rect x="496" y="295" width="1" height="3" fill="#fff"/>
<rect x="499" y="281" width="1" height="13" fill="#009400"/>
<rect x="498" y="282" width="3" height="12" fill="#009400"/>
<rect x="499" y="283" width="1" height="10" fill="#fff"/>
<rect x="502" y="263" width="1" height="19" fill="#009400"/>
<rect x="501" y="263" width="3" height="19" fill="#009400"/>
<rect x="502" y="264" width="1" height="17" fill="#fff"/>
<rect x="504" y="259" width="1" height="39" fill="#ff0000"/>
<rect x="503" y="262" width="3" height="36" fill="#ff0000"/>
<rect x="507" y="279" width="1" height="23" fill="#009400"/>
<rect x="506" y="279" width="3" height="19" fill="#009400"/>
<rect x="507" y="280" width="1" height="17" fill="#fff"/>
<rect x="510" y="248" width="1" height="36" fill="#009400"/>
<rect x="509" y="271" width="3" height="5" fill="#009400"/>
<rect x="510" y="272" width="1" height="3" fill="#fff"/>
<rect x="513" y="255" width="1" height="16" fill="#009400"/>
<rect x="512" y="255" width="3" height="16" fill="#009400"/>
<rect x="513" y="256" width="1" height="14" fill="#fff"/>
<rect x="516" y="223" width="1" height="34" fill="#009400"/>
<rect x="515" y="230" width="3" height="24" fill="#009400"/>
<rect x="516" y="231" width="1" height="22" fill="#fff"/>
<rect x="519" y="214" width="1" height="18" fill="#009400"/>
<rect x="518" y="225" width="3" height="1" fill="#009400"/>
<rect x="522" y="215" width="1" height="15" fill="#ff0000"/>
<rect x="521" y="222" width="3" height="7" fill="#ff0000"/>
<rect x="525" y="227" width="1" height="25" fill="#ff0000"/>
<rect x="524" y="227" width="3" height="13" fill="#ff0000"/>
<rect x="528" y="241" width="1" height="23" fill="#ff0000"/>
<rect x="527" y="242" width="3" height="22" fill="#ff0000"/>
<rect x="531" y="243" width="1" height="25" fill="#009400"/>
<rect x="530" y="243" width="3" height="17" fill="#009400"/>
<rect x="531" y="244" width="1" height="15" fill="#fff"/>
<rect x="534" y="220" width="1" height="20" fill="#009400"/>
<rect x="533" y="226" width="3" height="14" fill="#009400"/>
<rect x="534" y="227" width="1" height="12" fill="#fff"/>
<rect x="537" y="224" width="1" height="36" fill="#ff0000"/>
<rect x="536" y="227" width="3" height="33" fill="#ff0000"/>
<rect x="540" y="263" width="1" height="32" fill="#ff0000"/>
<rect x="539" y="263" width="3" height="18" fill="#ff0000"/>
<rect x="543" y="267" width="1" height="29" fill="#ff0000"/>
<rect x="542" y="280" width="3" height="16" fill="#ff0000"/>
<rect x="546" y="288" width="1" height="25" fill="#009400"/>
<rect x="545" y="288" width="3" height="13" fill="#009400"/>
<rect x="546" y="289" width="1" height="11" fill="#fff"/>
<rect x="549" y="276" width="1" height="22" fill="#009400"/>
<rect x="548" y="286" width="3" height="12" fill="#009400"/>
<rect x="549" y="287" width="1" height="10" fill="#fff"/>
<rect x="552" y="261" width="1" height="30" fill="#009400"/>
<rect x="551" y="265" width="3" height="21" fill="#009400"/>
<rect x="552" y="266" width="1" height="19" fill="#fff"/>
<path d="M542 213h3v1h-3zM535 214h7v1h-7zM545 214h3v1h-3zM533 215h2v1h-2zM548 215h3v1h-3zM532 216h1v1h-1zM551 216h2v1h-2zM532 217h1v1h-1zM531 218h1v1h-1zM531 219h1v1h-1zM530 220h1v1h-1zM530 221h1v1h-1zM528 222h2v1h-2zM527 223h1v1h-1zM525 224h2v1h-2zM524 225h1v1h-1zM523 226h1v1h-1zM523 227h1v1h-1zM522 228h1v1h-1zM522 229h1v1h-1zM522 230h1v1h-1zM521 231h1v1h-1zM521 232h1v1h-1zM520 233h1v1h-1zM520 234h1v1h-1zM520 235h1v1h-1zM519 236h1v1h-1zM519 237h1v1h-1zM519 238h1v1h-1zM484 239h1v1h-1zM518 239h1v1h-1zM483 240h1v1h-1zM485 240h1v1h-1zM518 240h1v1h-1zM482 241h1v1h-1zM486 241h1v1h-1zM518 241h1v1h-1zM481 242h1v1h-1zM487 242h1v1h-1zM517 242h1v1h-1zM481 243h1v1h-1zM488 243h1v1h-1zM517 243h1v1h-1zM480 244h1v1h-1zM488 244h1v1h-1zM517 244h1v1h-1zM480 245h1v1h-1zM489 245h1v1h-1zM517 245h1v1h-1zM479 246h1v1h-1zM490 246h1v1h-1zM516 246h1v1h-1zM479 247h1v1h-1zM491 247h1v1h-1zM516 247h1v1h-1zM478 248h1v1h-1zM491 248h1v1h-1zM516 248h1v1h-1zM478 249h1v1h-1zM492 249h1v1h-1zM516 249h1v1h-1zM477 250h1v1h-1zM492 250h1v1h-1zM515 250h1v1h-1zM477 251h1v1h-1zM493 251h1v1h-1zM515 251h1v1h-1zM476 252h1v1h-1zM494 252h1v1h-1zM515 252h1v1h-1zM476 253h1v1h-1zM494 253h1v1h-1zM515 253h1v1h-1zM475 254h1v1h-1zM495 254h1v1h-1zM514 254h1v1h-1zM473 255h2v1h-2zM495 255h1v1h-1zM514 255h1v1h-1zM472 256h1v1h-1zM496 256h1v1h-1zM514 256h1v1h-1zM471 257h1v1h-1zM497 257h1v1h-1zM513 257h1v1h-1zM470 258h1v1h-1zM498 258h1v1h-1zM513 258h1v1h-1zM470 259h1v1h-1zM499 259h5v1h-5zM512 259h1v1h-1zM469 260h1v1h-1zM504 260h2v1h-2zM512 260h1v1h-1zM468 261h1v1h-1zM505 261h1v1h-1zM511 261h1v1h-1zM468 262h1v1h-1zM506 262h1v1h-1zM511 262h1v1h-1zM467 263h1v1h-1zM506 263h1v1h-1zM510 263h1v1h-1zM467 264h1v1h-1zM507 264h4v1h-4zM466 265h1v1h-1zM466 266h1v1h-1zM465 267h1v1h-1zM465 268h1v1h-1zM465 269h1v1h-1zM464 270h1v1h-1zM464 271h1v1h-1zM463 272h1v1h-1zM463 273h1v1h-1zM463 274h1v1h-1zM462 275h1v1h-1zM462 276h1v1h-1zM462 277h1v1h-1zM461 278h1v1h-1zM461 279h1v1h-1zM461 280h1v1h-1zM461 281h1v1h-1zM460 282h1v1h-1zM460 283h1v1h-1zM460 284h1v1h-1zM459 285h1v1h-1zM459 286h1v1h-1zM459 287h1v1h-1zM459 288h1v1h-1zM458 289h1v1h-1zM458 290h1v1h-1zM458 291h1v1h-1zM457 292h1v1h-1zM457 293h1v1h-1zM457 294h1v1h-1zM457 295h1v1h-1zM456 296h1v1h-1zM456 297h1v1h-1zM456 298h1v1h-1zM456 299h1v1h-1zM455 300h1v1h-1zM455 301h1v1h-1zM455 302h1v1h-1zM455 303h1v1h-1zM454 304h1v1h-1zM454 305h1v1h-1zM454 306h1v1h-1zM454 307h1v1h-1zM454 308h1v1h-1zM453 309h1v1h-1zM453 310h1v1h-1zM453 311h1v1h-1zM453 312h1v1h-1zM452 313h1v1h-1zM452 314h1v1h-1zM452 315h1v1h-1zM452 316h1v1h-1zM451 317h1v1h-1zM451 318h1v1h-1zM451 319h1v1h-1zM451 320h1v1h-1zM450 321h1v1h-1zM450 322h1v1h-1zM450 323h1v1h-1zM450 324h1v1h-1zM449 325h1v1h-1zM449 326h1v1h-1zM449 327h1v1h-1zM449 328h1v1h-1zM448 329h1v1h-1zM448 330h1v1h-1zM448 331h1v1h-1zM448 332h1v1h-1zM448 333h1v1h-1zM447 334h1v1h-1zM447 335h1v1h-1zM447 336h1v1h-1zM447 337h1v1h-1zM446 338h1v1h-1zM446 339h1v1h-1zM446 340h1v1h-1zM446 341h1v1h-1zM445 342h1v1h-1zM445 343h1v1h-1zM445 344h1v1h-1zM445 345h1v1h-1zM444 346h1v1h-1zM444 347h1v1h-1zM444 348h1v1h-1zM443 349h1v1h-1zM443 350h1v1h-1zM443 351h1v1h-1zM442 352h1v1h-1zM442 353h1v1h-1zM442 354h1v1h-1zM442 355h1v1h-1zM441 356h1v1h-1zM441 357h1v1h-1zM441 358h1v1h-1zM440 359h1v1h-1zM440 360h1v1h-1zM440 361h1v1h-1zM440 362h1v1h-1zM439 363h1v1h-1zM439 364h1v1h-1zM439 365h1v1h-1zM438 366h1v1h-1zM438 367h1v1h-1zM437 368h1v1h-1zM437 369h1v1h-1zM436 370h1v1h-1zM436 371h1v1h-1zM435 372h1v1h-1zM435 373h1v1h-1zM434 374h1v1h-1zM433 375h1v1h-1zM432 376h1v1h-1zM432 377h1v1h-1zM0 378h1v1h-1zM431 378h1v1h-1zM0 379h1v1h-1zM33 379h6v1h-6zM429 379h2v1h-2zM1 380h1v1h-1zM31 380h2v1h-2zM39 380h2v1h-2zM427 380h2v1h-2zM1 381h1v1h-1zM29 381h2v1h-2zM41 381h1v1h-1zM426 381h1v1h-1zM2 382h1v1h-1zM28 382h1v1h-1zM42 382h1v1h-1zM424 382h2v1h-2zM2 383h1v1h-1zM27 383h1v1h-1zM43 383h1v1h-1zM422 383h2v1h-2zM2 384h1v1h-1zM26 384h1v1h-1zM44 384h1v1h-1zM421 384h1v1h-1zM3 385h1v1h-1zM23 385h3v1h-3zM45 385h1v1h-1zM419 385h2v1h-2zM3 386h1v1h-1zM19 386h4v1h-4zM46 386h1v1h-1zM417 386h2v1h-2zM4 387h1v1h-1zM16 387h3v1h-3zM47 387h1v1h-1zM415 387h2v1h-2zM4 388h1v1h-1zM15 388h1v1h-1zM47 388h1v1h-1zM404 388h11v1h-11zM5 389h1v1h-1zM14 389h1v1h-1zM48 389h1v1h-1zM397 389h7v1h-7zM5 390h1v1h-1zM13 390h1v1h-1zM48 390h1v1h-1zM395 390h2v1h-2zM6 391h1v1h-1zM13 391h1v1h-1zM49 391h1v1h-1zM393 391h2v1h-2zM6 392h1v1h-1zM12 392h1v1h-1zM49 392h1v1h-1zM391 392h2v1h-2zM7 393h1v1h-1zM12 393h1v1h-1zM50 393h1v1h-1zM389 393h2v1h-2zM7 394h1v1h-1zM11 394h1v1h-1zM50 394h1v1h-1zM388 394h1v1h-1zM8 395h1v1h-1zM10 395h1v1h-1zM51 395h1v1h-1zM251 395h2v1h-2zM387 395h1v1h-1zM8 396h1v1h-1zM10 396h1v1h-1zM51 396h1v1h-1zM249 396h2v1h-2zM253 396h2v1h-2zM268 396h31v1h-31zM385 396h2v1h-2zM9 397h1v1h-1zM52 397h1v1h-1zM247 397h2v1h-2zM255 397h2v1h-2zM264 397h4v1h-4zM299 397h13v1h-13zM384 397h1v1h-1zM52 398h1v1h-1zM246 398h1v1h-1zM257 398h2v1h-2zM262 398h2v1h-2zM312 398h2v1h-2zM382 398h2v1h-2zM53 399h1v1h-1zM245 399h1v1h-1zM259 399h3v1h-3zM314 399h2v1h-2zM329 399h15v1h-15zM380 399h2v1h-2zM53 400h1v1h-1zM244 400h1v1h-1zM316 400h3v1h-3zM324 400h5v1h-5zM344 400h22v1h-22zM376 400h4v1h-4zM53 401h1v1h-1zM243 401h1v1h-1zM319 401h5v1h-5zM366 401h10v1h-10zM54 402h1v1h-1zM242 402h1v1h-1zM54 403h1v1h-1zM241 403h1v1h-1zM55 404h1v1h-1zM241 404h1v1h-1zM55 405h1v1h-1zM240 405h1v1h-1zM55 406h1v1h-1zM239 406h1v1h-1zM56 407h1v1h-1zM162 407h3v1h-3zM239 407h1v1h-1zM56 408h1v1h-1zM160 408h2v1h-2zM165 408h1v1h-1zM238 408h1v1h-1zM56 409h1v1h-1zM159 409h1v1h-1zM166 409h2v1h-2zM185 409h10v1h-10zM238 409h1v1h-1zM57 410h1v1h-1zM157 410h2v1h-2zM168 410h2v1h-2zM181 410h4v1h-4zM195 410h3v1h-3zM237 410h1v1h-1zM57 411h1v1h-1zM156 411h1v1h-1zM170 411h1v1h-1zM179 411h2v1h-2zM198 411h1v1h-1zM236 411h1v1h-1zM58 412h1v1h-1zM155 412h1v1h-1zM171 412h2v1h-2zM176 412h3v1h-3zM199 412h2v1h-2zM236 412h1v1h-1zM58 413h1v1h-1zM154 413h1v1h-1zM173 413h3v1h-3zM201 413h1v1h-1zM235 413h1v1h-1zM58 414h1v1h-1zM153 414h1v1h-1zM202 414h1v1h-1zM234 414h1v1h-1zM58 415h1v1h-1zM152 415h1v1h-1zM203 415h2v1h-2zM234 415h1v1h-1zM59 416h1v1h-1zM151 416h1v1h-1zM205 416h2v1h-2zM233 416h1v1h-1zM59 417h1v1h-1zM150 417h1v1h-1zM207 417h2v1h-2zM233 417h1v1h-1zM59 418h1v1h-1zM149 418h1v1h-1zM209 418h1v1h-1zM232 418h1v1h-1zM59 419h1v1h-1zM148 419h1v1h-1zM210 419h1v1h-1zM231 419h1v1h-1zM60 420h1v1h-1zM147 420h1v1h-1zM211 420h1v1h-1zM231 420h1v1h-1zM60 421h1v1h-1zM146 421h1v1h-1zM212 421h1v1h-1zM230 421h1v1h-1zM60 422h1v1h-1zM145 422h1v1h-1zM213 422h1v1h-1zM229 422h1v1h-1zM61 423h1v1h-1zM144 423h1v1h-1zM214 423h1v1h-1zM229 423h1v1h-1zM61 424h1v1h-1zM144 424h1v1h-1zM215 424h1v1h-1zM228 424h1v1h-1zM61 425h1v1h-1zM143 425h1v1h-1zM215 425h1v1h-1zM228 425h1v1h-1zM62 426h1v1h-1zM143 426h1v1h-1zM216 426h1v1h-1zM227 426h1v1h-1zM62 427h1v1h-1zM143 427h1v1h-1zM217 427h1v1h-1zM226 427h1v1h-1zM62 428h1v1h-1zM143 428h1v1h-1zM218 428h1v1h-1zM225 428h1v1h-1zM62 429h1v1h-1zM142 429h1v1h-1zM218 429h1v1h-1zM224 429h1v1h-1zM63 430h1v1h-1zM142 430h1v1h-1zM219 430h2v1h-2zM223 430h1v1h-1zM63 431h1v1h-1zM142 431h1v1h-1zM221 431h2v1h-2zM63 432h1v1h-1zM141 432h1v1h-1zM64 433h1v1h-1zM141 433h1v1h-1zM64 434h1v1h-1zM140 434h1v1h-1zM64 435h1v1h-1zM140 435h1v1h-1zM65 436h1v1h-1zM139 436h1v1h-1zM65 437h1v1h-1zM139 437h1v1h-1zM65 438h1v1h-1zM138 438h1v1h-1zM66 439h1v1h-1zM138 439h1v1h-1zM66 440h1v1h-1zM137 440h1v1h-1zM66 441h1v1h-1zM137 441h1v1h-1zM67 442h1v1h-1zM136 442h1v1h-1zM67 443h1v1h-1zM136 443h1v1h-1zM68 444h1v1h-1zM135 444h1v1h-1zM68 445h1v1h-1zM134 445h1v1h-1zM68 446h1v1h-1zM133 446h1v1h-1zM69 447h1v1h-1zM133 447h1v1h-1zM69 448h1v1h-1zM132 448h1v1h-1zM70 449h1v1h-1zM131 449h1v1h-1zM70 450h1v1h-1zM130 450h1v1h-1zM71 451h1v1h-1zM129 451h1v1h-1zM71 452h1v1h-1zM129 452h1v1h-1zM72 453h5v1h-5zM128 453h1v1h-1zM77 454h10v1h-10zM127 454h1v1h-1zM87 455h6v1h-6zM126 455h1v1h-1zM93 456h1v1h-1zM125 456h1v1h-1zM94 457h2v1h-2zM124 457h1v1h-1zM96 458h1v1h-1zM123 458h1v1h-1zM97 459h6v1h-6zM120 459h3v1h-3zM103 460h7v1h-7zM115 460h5v1h-5zM110 461h5v1h-5z" fill="#ff0000"/>
<path d="M549 265h4v1h-4zM537 266h3v1h-3zM546 266h3v1h-3zM535 267h2v1h-2zM540 267h6v1h-6zM533 268h2v1h-2zM532 269h1v1h-1zM531 270h1v1h-1zM530 271h1v1h-1zM528 272h2v1h-2zM527 273h1v1h-1zM526 274h1v1h-1zM525 275h1v1h-1zM524 276h1v1h-1zM522 277h2v1h-2zM521 278h1v1h-1zM520 279h1v1h-1zM518 280h2v1h-2zM516 281h2v1h-2zM515 282h1v1h-1zM514 283h1v1h-1zM513 284h1v1h-1zM512 285h1v1h-1zM511 286h1v1h-1zM510 287h1v1h-1zM509 288h1v1h-1zM508 289h1v1h-1zM507 290h1v1h-1zM506 291h1v1h-1zM505 292h1v1h-1zM503 293h2v1h-2zM502 294h1v1h-1zM501 295h1v1h-1zM500 296h1v1h-1zM499 297h1v1h-1zM498 298h1v1h-1zM498 299h1v1h-1zM497 300h1v1h-1zM496 301h1v1h-1zM495 302h1v1h-1zM495 303h1v1h-1zM494 304h1v1h-1zM493 305h1v1h-1zM492 306h1v1h-1zM492 307h1v1h-1zM491 308h1v1h-1zM490 309h1v1h-1zM490 310h1v1h-1zM489 311h1v1h-1zM488 312h1v1h-1zM487 313h1v1h-1zM487 314h1v1h-1zM486 315h1v1h-1zM485 316h1v1h-1zM485 317h1v1h-1zM484 318h1v1h-1zM483 319h1v1h-1zM483 320h1v1h-1zM482 321h1v1h-1zM482 322h1v1h-1zM481 323h1v1h-1zM481 324h1v1h-1zM480 325h1v1h-1zM480 326h1v1h-1zM479 327h1v1h-1zM479 328h1v1h-1zM478 329h1v1h-1zM478 330h1v1h-1zM478 331h1v1h-1zM477 332h1v1h-1zM477 333h1v1h-1zM476 334h1v1h-1zM476 335h1v1h-1zM475 336h1v1h-1zM475 337h1v1h-1zM474 338h1v1h-1zM474 339h1v1h-1zM473 340h1v1h-1zM473 341h1v1h-1zM472 342h1v1h-1zM472 343h1v1h-1zM471 344h1v1h-1zM471 345h1v1h-1zM470 346h1v1h-1zM470 347h1v1h-1zM469 348h1v1h-1zM469 349h1v1h-1zM468 350h1v1h-1zM468 351h1v1h-1zM467 352h1v1h-1zM467 353h1v1h-1zM466 354h1v1h-1zM466 355h1v1h-1zM466 356h1v1h-1zM465 357h1v1h-1zM465 358h1v1h-1zM464 359h1v1h-1zM464 360h1v1h-1zM463 361h1v1h-1zM463 362h1v1h-1zM462 363h1v1h-1zM462 364h1v1h-1zM461 365h1v1h-1zM461 366h1v1h-1zM461 367h1v1h-1zM460 368h1v1h-1zM460 369h1v1h-1zM459 370h1v1h-1zM459 371h1v1h-1zM458 372h1v1h-1zM458 373h1v1h-1zM457 374h1v1h-1zM457 375h1v1h-1zM456 376h1v1h-1zM456 377h1v1h-1zM455 378h1v1h-1zM455 379h1v1h-1zM454 380h1v1h-1zM454 381h1v1h-1zM453 382h1v1h-1zM453 383h1v1h-1zM452 384h1v1h-1zM452 385h1v1h-1zM451 386h1v1h-1zM450 387h1v1h-1zM449 388h1v1h-1zM448 389h1v1h-1zM447 390h1v1h-1zM446 391h1v1h-1zM445 392h1v1h-1zM444 393h1v1h-1zM443 394h1v1h-1zM442 395h1v1h-1zM441 396h1v1h-1zM440 397h1v1h-1zM438 398h2v1h-2zM437 399h1v1h-1zM436 400h1v1h-1zM435 401h1v1h-1zM433 402h2v1h-2zM432 403h1v1h-1zM430 404h2v1h-2zM428 405h2v1h-2zM425 406h3v1h-3zM422 407h3v1h-3zM420 408h2v1h-2zM0 409h1v1h-1zM416 409h4v1h-4zM1 410h1v1h-1zM329 410h5v1h-5zM411 410h5v1h-5zM2 411h1v1h-1zM324 411h5v1h-5zM334 411h5v1h-5zM391 411h20v1h-20zM2 412h1v1h-1zM319 412h5v1h-5zM339 412h5v1h-5zM350 412h6v1h-6zM386 412h5v1h-5zM3 413h1v1h-1zM292 413h6v1h-6zM314 413h5v1h-5zM344 413h6v1h-6zM356 413h8v1h-8zM381 413h5v1h-5zM4 414h1v1h-1zM285 414h7v1h-7zM298 414h2v1h-2zM307 414h7v1h-7zM364 414h17v1h-17zM5 415h1v1h-1zM283 415h2v1h-2zM300 415h7v1h-7zM6 416h1v1h-1zM281 416h2v1h-2zM6 417h1v1h-1zM279 417h2v1h-2zM7 418h1v1h-1zM277 418h2v1h-2zM8 419h1v1h-1zM275 419h2v1h-2zM9 420h2v1h-2zM274 420h1v1h-1zM11 421h1v1h-1zM272 421h2v1h-2zM12 422h1v1h-1zM270 422h2v1h-2zM13 423h1v1h-1zM269 423h1v1h-1zM14 424h1v1h-1zM267 424h2v1h-2zM15 425h1v1h-1zM265 425h2v1h-2zM15 426h1v1h-1zM264 426h1v1h-1zM16 427h1v1h-1zM263 427h1v1h-1zM17 428h1v1h-1zM261 428h2v1h-2zM18 429h1v1h-1zM260 429h1v1h-1zM19 430h1v1h-1zM259 430h1v1h-1zM20 431h1v1h-1zM257 431h2v1h-2zM21 432h1v1h-1zM255 432h2v1h-2zM21 433h1v1h-1zM254 433h1v1h-1zM22 434h1v1h-1zM253 434h1v1h-1zM23 435h1v1h-1zM251 435h2v1h-2zM24 436h1v1h-1zM250 436h1v1h-1zM25 437h1v1h-1zM249 437h1v1h-1zM26 438h1v1h-1zM247 438h2v1h-2zM27 439h1v1h-1zM245 439h2v1h-2zM28 440h1v1h-1zM171 440h9v1h-9zM244 440h1v1h-1zM29 441h1v1h-1zM169 441h2v1h-2zM180 441h5v1h-5zM243 441h1v1h-1zM30 442h1v1h-1zM167 442h2v1h-2zM185 442h5v1h-5zM242 442h1v1h-1zM31 443h1v1h-1zM166 443h1v1h-1zM190 443h4v1h-4zM241 443h1v1h-1zM32 444h1v1h-1zM164 444h2v1h-2zM194 444h2v1h-2zM240 444h1v1h-1zM33 445h1v1h-1zM163 445h1v1h-1zM196 445h4v1h-4zM239 445h1v1h-1zM34 446h1v1h-1zM162 446h1v1h-1zM200 446h4v1h-4zM237 446h2v1h-2zM35 447h1v1h-1zM160 447h2v1h-2zM204 447h2v1h-2zM235 447h2v1h-2zM36 448h1v1h-1zM158 448h2v1h-2zM206 448h2v1h-2zM233 448h2v1h-2zM37 449h1v1h-1zM157 449h1v1h-1zM208 449h1v1h-1zM231 449h2v1h-2zM38 450h1v1h-1zM156 450h1v1h-1zM209 450h3v1h-3zM228 450h3v1h-3zM39 451h1v1h-1zM154 451h2v1h-2zM212 451h5v1h-5zM226 451h2v1h-2zM40 452h1v1h-1zM153 452h1v1h-1zM217 452h9v1h-9zM41 453h1v1h-1zM152 453h1v1h-1zM42 454h1v1h-1zM151 454h1v1h-1zM43 455h1v1h-1zM149 455h2v1h-2zM44 456h1v1h-1zM148 456h1v1h-1zM45 457h1v1h-1zM147 457h1v1h-1zM46 458h1v1h-1zM146 458h1v1h-1zM47 459h1v1h-1zM144 459h2v1h-2zM48 460h1v1h-1zM143 460h1v1h-1zM49 461h1v1h-1zM142 461h1v1h-1zM50 462h1v1h-1zM141 462h1v1h-1zM51 463h1v1h-1zM140 463h1v1h-1zM52 464h1v1h-1zM139 464h1v1h-1zM53 465h1v1h-1zM138 465h1v1h-1zM54 466h2v1h-2zM137 466h1v1h-1zM56 467h1v1h-1zM136 467h1v1h-1zM57 468h1v1h-1zM134 468h2v1h-2zM58 469h1v1h-1zM133 469h1v1h-1zM59 470h1v1h-1zM130 470h3v1h-3zM60 471h2v1h-2zM126 471h4v1h-4zM62 472h1v1h-1zM124 472h2v1h-2zM63 473h1v1h-1zM110 473h14v1h-14zM64 474h1v1h-1zM105 474h5v1h-5zM65 475h1v1h-1zM91 475h14v1h-14zM66 476h1v1h-1zM89 476h2v1h-2zM67 477h2v1h-2zM87 477h2v1h-2zM69 478h1v1h-1zM85 478h2v1h-2zM70 479h1v1h-1zM83 479h2v1h-2zM71 480h4v1h-4zM80 480h3v1h-3zM75 481h5v1h-5z" fill="#ff0000"/>
<path d="M510 312h2v1h-2zM509 313h1v1h-1zM512 313h1v1h-1zM552 313h1v1h-1zM508 314h1v1h-1zM513 314h1v1h-1zM551 314h1v1h-1zM507 315h1v1h-1zM513 315h1v1h-1zM551 315h1v1h-1zM507 316h1v1h-1zM514 316h1v1h-1zM550 316h1v1h-1zM506 317h1v1h-1zM515 317h1v1h-1zM549 317h1v1h-1zM506 318h1v1h-1zM515 318h1v1h-1zM548 318h1v1h-1zM506 319h1v1h-1zM516 319h1v1h-1zM537 319h3v1h-3zM548 319h1v1h-1zM506 320h1v1h-1zM516 320h1v1h-1zM534 320h3v1h-3zM540 320h2v1h-2zM547 320h1v1h-1zM505 321h1v1h-1zM517 321h1v1h-1zM532 321h2v1h-2zM542 321h2v1h-2zM545 321h2v1h-2zM505 322h1v1h-1zM518 322h1v1h-1zM530 322h2v1h-2zM544 322h1v1h-1zM505 323h1v1h-1zM519 323h1v1h-1zM529 323h1v1h-1zM504 324h1v1h-1zM520 324h2v1h-2zM527 324h2v1h-2zM504 325h1v1h-1zM522 325h5v1h-5zM504 326h1v1h-1zM504 327h1v1h-1zM503 328h1v1h-1zM503 329h1v1h-1zM503 330h1v1h-1zM503 331h1v1h-1zM502 332h1v1h-1zM502 333h1v1h-1zM501 334h1v1h-1zM501 335h1v1h-1zM500 336h1v1h-1zM500 337h1v1h-1zM499 338h1v1h-1zM499 339h1v1h-1zM498 340h1v1h-1zM498 341h1v1h-1zM498 342h1v1h-1zM498 343h1v1h-1zM497 344h1v1h-1zM497 345h1v1h-1zM497 346h1v1h-1zM497 347h1v1h-1zM496 348h1v1h-1zM496 349h1v1h-1zM496 350h1v1h-1zM496 351h1v1h-1zM495 352h1v1h-1zM495 353h1v1h-1zM495 354h1v1h-1zM495 355h1v1h-1zM494 356h1v1h-1zM494 357h1v1h-1zM494 358h1v1h-1zM494 359h1v1h-1zM493 360h1v1h-1zM493 361h1v1h-1zM493 362h1v1h-1zM493 363h1v1h-1zM492 364h1v1h-1zM492 365h1v1h-1zM492 366h1v1h-1zM492 367h1v1h-1zM491 368h1v1h-1zM491 369h1v1h-1zM491 370h1v1h-1zM491 371h1v1h-1zM490 372h1v1h-1zM490 373h1v1h-1zM490 374h1v1h-1zM490 375h1v1h-1zM489 376h1v1h-1zM489 377h1v1h-1zM489 378h1v1h-1zM489 379h1v1h-1zM488 380h1v1h-1zM488 381h1v1h-1zM488 382h1v1h-1zM488 383h1v1h-1zM487 384h1v1h-1zM487 385h1v1h-1zM487 386h1v1h-1zM487 387h1v1h-1zM486 388h1v1h-1zM486 389h1v1h-1zM486 390h1v1h-1zM486 391h1v1h-1zM485 392h1v1h-1zM485 393h1v1h-1zM485 394h1v1h-1zM484 395h1v1h-1zM484 396h1v1h-1zM484 397h1v1h-1zM483 398h1v1h-1zM483 399h1v1h-1zM483 400h1v1h-1zM483 401h1v1h-1zM482 402h1v1h-1zM482 403h1v1h-1zM482 404h1v1h-1zM481 405h1v1h-1zM481 406h1v1h-1zM481 407h1v1h-1zM480 408h1v1h-1zM480 409h1v1h-1zM479 410h1v1h-1zM479 411h1v1h-1zM478 412h1v1h-1zM478 413h1v1h-1zM477 414h1v1h-1zM477 415h1v1h-1zM476 416h1v1h-1zM476 417h1v1h-1zM476 418h1v1h-1zM475 419h1v1h-1zM475 420h1v1h-1zM475 421h1v1h-1zM321 422h6v1h-6zM334 422h3v1h-3zM474 422h1v1h-1zM319 423h2v1h-2zM327 423h7v1h-7zM337 423h2v1h-2zM358 423h8v1h-8zM474 423h1v1h-1zM317 424h2v1h-2zM339 424h2v1h-2zM357 424h1v1h-1zM366 424h15v1h-15zM473 424h1v1h-1zM316 425h1v1h-1zM341 425h3v1h-3zM354 425h3v1h-3zM381 425h3v1h-3zM473 425h1v1h-1zM314 426h2v1h-2zM344 426h10v1h-10zM384 426h2v1h-2zM473 426h1v1h-1zM312 427h2v1h-2zM386 427h2v1h-2zM472 427h1v1h-1zM302 428h10v1h-10zM388 428h2v1h-2zM472 428h1v1h-1zM290 429h12v1h-12zM390 429h2v1h-2zM472 429h1v1h-1zM288 430h2v1h-2zM392 430h9v1h-9zM471 430h1v1h-1zM286 431h2v1h-2zM401 431h4v1h-4zM425 431h10v1h-10zM471 431h1v1h-1zM285 432h1v1h-1zM405 432h2v1h-2zM411 432h14v1h-14zM435 432h1v1h-1zM471 432h1v1h-1zM283 433h2v1h-2zM407 433h4v1h-4zM435 433h1v1h-1zM470 433h1v1h-1zM282 434h1v1h-1zM436 434h1v1h-1zM470 434h1v1h-1zM281 435h1v1h-1zM437 435h1v1h-1zM469 435h1v1h-1zM280 436h1v1h-1zM438 436h1v1h-1zM469 436h1v1h-1zM278 437h2v1h-2zM438 437h1v1h-1zM469 437h1v1h-1zM277 438h1v1h-1zM439 438h1v1h-1zM468 438h1v1h-1zM276 439h1v1h-1zM440 439h1v1h-1zM468 439h1v1h-1zM274 440h2v1h-2zM440 440h1v1h-1zM467 440h1v1h-1zM273 441h1v1h-1zM441 441h1v1h-1zM467 441h1v1h-1zM272 442h1v1h-1zM442 442h1v1h-1zM466 442h1v1h-1zM271 443h1v1h-1zM443 443h1v1h-1zM466 443h1v1h-1zM269 444h2v1h-2zM443 444h1v1h-1zM465 444h1v1h-1zM10 445h1v1h-1zM268 445h1v1h-1zM444 445h1v1h-1zM465 445h1v1h-1zM8 446h3v1h-3zM267 446h1v1h-1zM445 446h1v1h-1zM464 446h1v1h-1zM7 447h1v1h-1zM11 447h1v1h-1zM266 447h1v1h-1zM446 447h1v1h-1zM464 447h1v1h-1zM6 448h1v1h-1zM11 448h1v1h-1zM265 448h1v1h-1zM447 448h1v1h-1zM463 448h1v1h-1zM4 449h2v1h-2zM11 449h1v1h-1zM264 449h1v1h-1zM448 449h1v1h-1zM463 449h1v1h-1zM3 450h1v1h-1zM11 450h1v1h-1zM264 450h1v1h-1zM448 450h1v1h-1zM462 450h1v1h-1zM1 451h2v1h-2zM12 451h1v1h-1zM263 451h1v1h-1zM449 451h1v1h-1zM462 451h1v1h-1zM0 452h1v1h-1zM12 452h1v1h-1zM262 452h1v1h-1zM450 452h1v1h-1zM461 452h1v1h-1zM12 453h1v1h-1zM261 453h1v1h-1zM451 453h1v1h-1zM460 453h1v1h-1zM12 454h1v1h-1zM261 454h1v1h-1zM452 454h2v1h-2zM460 454h1v1h-1zM12 455h1v1h-1zM260 455h1v1h-1zM454 455h1v1h-1zM458 455h2v1h-2zM12 456h1v1h-1zM259 456h1v1h-1zM455 456h3v1h-3zM13 457h1v1h-1zM259 457h1v1h-1zM13 458h1v1h-1zM258 458h1v1h-1zM13 459h1v1h-1zM258 459h1v1h-1zM13 460h1v1h-1zM257 460h1v1h-1zM13 461h1v1h-1zM256 461h1v1h-1zM13 462h1v1h-1zM256 462h1v1h-1zM13 463h1v1h-1zM255 463h1v1h-1zM13 464h1v1h-1zM255 464h1v1h-1zM13 465h1v1h-1zM254 465h1v1h-1zM14 466h1v1h-1zM175 466h1v1h-1zM254 466h1v1h-1zM14 467h1v1h-1zM174 467h1v1h-1zM176 467h2v1h-2zM253 467h1v1h-1zM14 468h1v1h-1zM173 468h1v1h-1zM178 468h1v1h-1zM252 468h1v1h-1zM14 469h1v1h-1zM173 469h1v1h-1zM179 469h1v1h-1zM251 469h1v1h-1zM14 470h1v1h-1zM172 470h1v1h-1zM180 470h1v1h-1zM250 470h1v1h-1zM14 471h1v1h-1zM171 471h1v1h-1zM181 471h1v1h-1zM249 471h1v1h-1zM14 472h1v1h-1zM170 472h1v1h-1zM182 472h2v1h-2zM248 472h1v1h-1zM14 473h1v1h-1zM169 473h1v1h-1zM184 473h2v1h-2zM247 473h1v1h-1zM15 474h1v1h-1zM169 474h1v1h-1zM186 474h2v1h-2zM221 474h3v1h-3zM246 474h1v1h-1zM15 475h1v1h-1zM168 475h1v1h-1zM188 475h2v1h-2zM219 475h2v1h-2zM224 475h2v1h-2zM245 475h1v1h-1zM15 476h1v1h-1zM167 476h1v1h-1zM190 476h2v1h-2zM217 476h2v1h-2zM226 476h2v1h-2zM243 476h2v1h-2zM15 477h1v1h-1zM166 477h1v1h-1zM192 477h1v1h-1zM216 477h1v1h-1zM228 477h1v1h-1zM241 477h2v1h-2zM15 478h1v1h-1zM166 478h1v1h-1zM193 478h2v1h-2zM214 478h2v1h-2zM229 478h2v1h-2zM239 478h2v1h-2zM15 479h1v1h-1zM165 479h1v1h-1zM195 479h2v1h-2zM213 479h1v1h-1zM231 479h2v1h-2zM236 479h3v1h-3zM16 480h1v1h-1zM164 480h1v1h-1zM197 480h3v1h-3zM205 480h8v1h-8zM233 480h3v1h-3zM16 481h1v1h-1zM163 481h1v1h-1zM200 481h5v1h-5zM16 482h1v1h-1zM163 482h1v1h-1zM16 483h1v1h-1zM162 483h1v1h-1zM17 484h1v1h-1zM161 484h1v1h-1zM17 485h1v1h-1zM160 485h1v1h-1zM18 486h1v1h-1zM21 486h1v1h-1zM110 486h14v1h-14zM159 486h1v1h-1zM19 487h2v1h-2zM22 487h1v1h-1zM109 487h1v1h-1zM124 487h2v1h-2zM159 487h1v1h-1zM22 488h1v1h-1zM107 488h2v1h-2zM126 488h2v1h-2zM158 488h1v1h-1zM23 489h1v1h-1zM106 489h1v1h-1zM128 489h2v1h-2zM157 489h1v1h-1zM24 490h1v1h-1zM95 490h11v1h-11zM130 490h2v1h-2zM155 490h2v1h-2zM25 491h1v1h-1zM94 491h1v1h-1zM132 491h3v1h-3zM153 491h2v1h-2zM26 492h1v1h-1zM93 492h1v1h-1zM135 492h4v1h-4zM151 492h2v1h-2zM27 493h1v1h-1zM92 493h1v1h-1zM139 493h3v1h-3zM149 493h2v1h-2zM27 494h1v1h-1zM91 494h1v1h-1zM142 494h2v1h-2zM147 494h2v1h-2zM27 495h1v1h-1zM91 495h1v1h-1zM144 495h3v1h-3zM28 496h1v1h-1zM90 496h1v1h-1zM28 497h1v1h-1zM90 497h1v1h-1zM28 498h1v1h-1zM89 498h1v1h-1zM28 499h1v1h-1zM89 499h1v1h-1zM29 500h1v1h-1zM88 500h1v1h-1zM29 501h1v1h-1zM88 501h1v1h-1zM29 502h1v1h-1zM87 502h1v1h-1zM29 503h1v1h-1zM86 503h2v1h-2zM30 504h1v1h-1zM84 504h2v1h-2zM30 505h1v1h-1zM74 505h2v1h-2zM80 505h4v1h-4zM30 506h1v1h-1zM73 506h1v1h-1zM76 506h4v1h-4zM30 507h1v1h-1zM72 507h1v1h-1zM30 508h1v1h-1zM71 508h1v1h-1zM31 509h1v1h-1zM69 509h2v1h-2zM31 510h1v1h-1zM68 510h1v1h-1zM31 511h1v1h-1zM67 511h1v1h-1zM31 512h1v1h-1zM66 512h1v1h-1zM32 513h1v1h-1zM65 513h1v1h-1zM32 514h1v1h-1zM65 514h1v1h-1zM32 515h1v1h-1zM64 515h1v1h-1zM32 516h1v1h-1zM63 516h1v1h-1zM33 517h1v1h-1zM62 517h1v1h-1zM33 518h1v1h-1zM62 518h1v1h-1zM34 519h1v1h-1zM61 519h1v1h-1zM35 520h2v1h-2zM60 520h1v1h-1zM37 521h1v1h-1zM59 521h1v1h-1zM38 522h1v1h-1zM59 522h1v1h-1zM39 523h1v1h-1zM58 523h1v1h-1zM40 524h2v1h-2zM57 524h1v1h-1zM42 525h1v1h-1zM56 525h1v1h-1zM43 526h2v1h-2zM55 526h1v1h-1zM45 527h2v1h-2zM55 527h1v1h-1zM47 528h2v1h-2zM54 528h1v1h-1zM49 529h2v1h-2zM53 529h1v1h-1zM51 530h2v1h-2z" fill="#ff0000"/>
<polyline points="0.5,461.3 13.3,459.5 26.1,458.7 51.5,457.5 77.2,456.2 92.5,456.1 102.5,455.5 112.5,455.2 122.5,454.0 132.5,453.5 142.5,452.8 152.5,451.8 162.5,450.2 172.5,449.2 182.5,449.0 192.5,448.0 202.5,447.4 214.5,445.5 224.5,443.0 234.5,441.1 244.5,439.2 254.5,437.4 264.5,434.9 274.5,432.4 284.5,431.1 286.5,430.5 296.5,428.5 306.5,426.8 316.5,424.9 326.5,423.5 336.5,422.8 346.5,422.4 356.5,421.5 368.5,420.5 388.5,420.2 398.5,420.2 408.5,420.8 420.5,421.3 442.4,419.8 464.2,417.5 486.1,414.7 508.0,412.5 529.9,409.2 552.9,406.2" fill="none" stroke="#ff0000" stroke-width="2"/>
<polyline points="0.5,379.5 7.5,379.5 10.5,380.8 13.0,382.4 16.5,384.9 20.5,388.0 25.5,392.8 30.5,397.4 35.5,402.4 40.5,406.8 45.5,411.1 50.5,415.5 55.5,420.5 60.5,424.0 64.5,428.0 72.5,434.2 77.2,439.5 82.5,443.0 90.0,451.1 92.5,453.0 102.5,457.5 112.5,461.8 122.5,463.5 132.5,464.4 142.5,465.4 147.5,466.5 157.5,466.8 165.5,466.1 172.5,463.5 177.5,462.4 187.5,460.5 197.5,459.0 207.5,457.4 214.5,456.8 224.5,454.9 234.5,450.5 244.5,445.5 254.5,442.4 264.5,438.5 274.5,435.5 284.5,433.0 286.5,432.4 296.5,431.8 306.5,431.5 311.5,430.2 316.5,429.2 326.5,426.1 336.5,422.8 346.5,419.9 356.5,417.4 358.5,416.1 368.5,414.5 378.5,413.5 388.5,412.4 398.5,412.0 408.5,412.0 418.5,411.5 428.5,410.2 431.5,410.4 442.4,407.1 453.3,399.4 464.2,390.7 475.2,381.9 486.1,373.2 497.1,364.4 508.0,353.5 518.9,342.5 523.5,336.1 528.5,330.5 533.5,324.9 538.5,320.5 543.5,317.4 548.5,313.5 552.9,309.2" fill="none" stroke="#000" stroke-width="2"/>
<polyline points="0.5,408.9 8.2,405.0 15.8,403.2 26.1,403.0 38.9,403.7 51.5,404.5 64.5,405.5 77.2,407.5 90.0,409.7 102.5,412.9 110.5,415.5 115.5,417.0 120.5,418.3 132.5,420.5 147.5,422.0 157.5,423.5 167.5,425.2 177.5,428.5 187.5,432.4 197.5,437.4 204.5,439.2 214.5,443.0 224.5,446.1 229.5,447.8 234.5,448.5 244.5,450.2 254.5,450.5 264.5,450.5 274.5,449.9 284.5,449.0 294.5,449.5 306.5,448.5 316.5,446.8 326.5,443.5 336.5,441.1 346.5,438.5 356.5,436.8 358.5,436.1 368.5,434.2 378.5,432.0 388.5,429.9 398.5,427.4 408.5,425.5 418.5,423.5 428.5,422.0 431.5,421.3 442.4,419.1 453.3,414.7 464.2,409.2 475.2,403.8 486.1,397.2 497.1,391.8 508.0,385.2 518.9,377.5 529.9,371.0 540.8,365.5 552.9,361.5" fill="none" stroke="#0000ff" stroke-width="2"/>
<rect x="592" y="256" width="41" height="16" fill="#000"/>
<rect x="-1" y="620" width="2" height="17" fill="#009400"/>
<rect x="2" y="609" width="2" height="28" fill="#009400"/>
<rect x="5" y="614" width="2" height="23" fill="#009400"/>
<rect x="8" y="615" width="2" height="22" fill="#009400"/>
<rect x="11" y="612" width="2" height="25" fill="#009400"/>
<rect x="14" y="611" width="2" height="26" fill="#009400"/>
<rect x="17" y="612" width="2" height="25" fill="#009400"/>
<rect x="20" y="615" width="2" height="22" fill="#009400"/>
<rect x="23" y="612" width="2" height="25" fill="#009400"/>
<rect x="26" y="611" width="2" height="26" fill="#009400"/>
<rect x="29" y="610" width="2" height="27" fill="#009400"/>
<rect x="32" y="604" width="2" height="33" fill="#009400"/>
<rect x="35" y="608" width="2" height="29" fill="#009400"/>
<rect x="38" y="589" width="2" height="48" fill="#009400"/>
<rect x="41" y="591" width="2" height="46" fill="#009400"/>
<rect x="44" y="602" width="2" height="35" fill="#009400"/>
<rect x="47" y="604" width="2" height="33" fill="#009400"/>
<rect x="50" y="616" width="2" height="21" fill="#009400"/>
<rect x="53" y="616" width="2" height="21" fill="#009400"/>
<rect x="56" y="616" width="2" height="21" fill="#009400"/>
<rect x="59" y="616" width="2" height="21" fill="#009400"/>
<rect x="62" y="631" width="2" height="6" fill="#009400"/>
<rect x="65" y="604" width="2" height="33" fill="#009400"/>
<rect x="68" y="615" width="2" height="22" fill="#009400"/>
<rect x="71" y="615" width="2" height="22" fill="#009400"/>
<rect x="74" y="608" width="2" height="29" fill="#009400"/>
<rect x="77" y="617" width="2" height="20" fill="#009400"/>
<rect x="80" y="615" width="2" height="22" fill="#009400"/>
<rect x="82" y="612" width="2" height="25" fill="#009400"/>
<rect x="85" y="617" width="2" height="20" fill="#009400"/>
<rect x="88" y="612" width="2" height="25" fill="#009400"/>
<rect x="91" y="601" width="2" height="36" fill="#009400"/>
<rect x="94" y="605" width="2" height="32" fill="#009400"/>
<rect x="97" y="615" width="2" height="22" fill="#009400"/>
<rect x="100" y="614" width="2" height="23" fill="#009400"/>
<rect x="103" y="627" width="2" height="10" fill="#009400"/>
<rect x="106" y="608" width="2" height="29" fill="#009400"/>
<rect x="109" y="605" width="2" height="32" fill="#009400"/>
<rect x="112" y="607" width="2" height="30" fill="#009400"/>
<rect x="115" y="598" width="2" height="39" fill="#009400"/>
<rect x="118" y="594" width="2" height="43" fill="#009400"/>
<rect x="121" y="598" width="2" height="39" fill="#009400"/>
<rect x="124" y="601" width="2" height="36" fill="#009400"/>
<rect x="127" y="602" width="2" height="35" fill="#009400"/>
<rect x="130" y="604" width="2" height="33" fill="#009400"/>
<rect x="133" y="599" width="2" height="38" fill="#009400"/>
<rect x="136" y="599" width="2" height="38" fill="#009400"/>
<rect x="139" y="592" width="2" height="45" fill="#009400"/>
<rect x="142" y="588" width="2" height="49" fill="#009400"/>
<rect x="145" y="589" width="2" height="48" fill="#009400"/>
<rect x="148" y="587" width="2" height="50" fill="#009400"/>
<rect x="151" y="597" width="2" height="40" fill="#009400"/>
<rect x="154" y="605" width="2" height="32" fill="#009400"/>
<rect x="157" y="598" width="2" height="39" fill="#009400"/>
<rect x="160" y="588" width="2" height="49" fill="#009400"/>
<rect x="163" y="594" width="2" height="43" fill="#009400"/>
<rect x="166" y="601" width="2" height="36" fill="#009400"/>
<rect x="168" y="607" width="2" height="30" fill="#009400"/>
<rect x="171" y="610" width="2" height="27" fill="#009400"/>
<rect x="174" y="606" width="2" height="31" fill="#009400"/>
<rect x="177" y="607" width="2" height="30" fill="#009400"/>
<rect x="180" y="607" width="2" height="30" fill="#009400"/>
<rect x="183" y="599" width="2" height="38" fill="#009400"/>
<rect x="186" y="598" width="2" height="39" fill="#009400"/>
<rect x="189" y="598" width="2" height="39" fill="#009400"/>
<rect x="192" y="610" width="2" height="27" fill="#009400"/>
<rect x="195" y="594" width="2" height="43" fill="#009400"/>
<rect x="198" y="607" width="2" height="30" fill="#009400"/>
<rect x="201" y="613" width="2" height="24" fill="#009400"/>
<rect x="204" y="609" width="2" height="28" fill="#009400"/>
<rect x="207" y="605" width="2" height="32" fill="#009400"/>
<rect x="210" y="596" width="2" height="41" fill="#009400"/>
<rect x="213" y="608" width="2" height="29" fill="#009400"/>
<rect x="216" y="609" width="2" height="28" fill="#009400"/>
<rect x="219" y="605" width="2" height="32" fill="#009400"/>
<rect x="222" y="618" width="2" height="19" fill="#009400"/>
<rect x="225" y="621" width="2" height="16" fill="#009400"/>
<rect x="228" y="593" width="2" height="44" fill="#009400"/>
<rect x="231" y="594" width="2" height="43" fill="#009400"/>
<rect x="234" y="588" width="2" height="49" fill="#009400"/>
<rect x="237" y="594" width="2" height="43" fill="#009400"/>
<rect x="240" y="585" width="2" height="52" fill="#009400"/>
<rect x="243" y="595" width="2" height="42" fill="#009400"/>
<rect x="246" y="592" width="2" height="45" fill="#009400"/>
<rect x="249" y="605" width="2" height="32" fill="#009400"/>
<rect x="251" y="599" width="2" height="38" fill="#009400"/>
<rect x="254" y="608" width="2" height="29" fill="#009400"/>
<rect x="257" y="626" width="2" height="11" fill="#009400"/>
<rect x="260" y="606" width="2" height="31" fill="#009400"/>
<rect x="263" y="603" width="2" height="34" fill="#009400"/>
<rect x="266" y="592" width="2" height="45" fill="#009400"/>
<rect x="269" y="601" width="2" height="36" fill="#009400"/>
<rect x="272" y="600" width="2" height="37" fill="#009400"/>
<rect x="275" y="597" width="2" height="40" fill="#009400"/>
<rect x="278" y="601" width="2" height="36" fill="#009400"/>
<rect x="281" y="605" width="2" height="32" fill="#009400"/>
<rect x="284" y="613" width="2" height="24" fill="#009400"/>
<rect x="287" y="606" width="2" height="31" fill="#009400"/>
<rect x="290" y="603" width="2" height="34" fill="#009400"/>
<rect x="293" y="609" width="2" height="28" fill="#009400"/>
<rect x="296" y="606" width="2" height="31" fill="#009400"/>
<rect x="299" y="606" width="2" height="31" fill="#009400"/>
<rect x="302" y="611" width="2" height="26" fill="#009400"/>
<rect x="305" y="606" width="2" height="31" fill="#009400"/>
<rect x="308" y="608" width="2" height="29" fill="#009400"/>
<rect x="311" y="620" width="2" height="17" fill="#009400"/>
<rect x="314" y="615" width="2" height="22" fill="#009400"/>
<rect x="317" y="610" width="2" height="27" fill="#009400"/>
<rect x="320" y="603" width="2" height="34" fill="#009400"/>
<rect x="323" y="601" width="2" height="36" fill="#009400"/>
<rect x="326" y="609" width="2" height="28" fill="#009400"/>
<rect x="329" y="608" width="2" height="29" fill="#009400"/>
<rect x="332" y="609" width="2" height="28" fill="#009400"/>
<rect x="334" y="614" width="2" height="23" fill="#009400"/>
<rect x="337" y="614" width="2" height="23" fill="#009400"/>
<rect x="340" y="608" width="2" height="29" fill="#009400"/>
<rect x="343" y="613" width="2" height="24" fill="#009400"/>
<rect x="346" y="616" width="2" height="21" fill="#009400"/>
<rect x="349" y="611" width="2" height="26" fill="#009400"/>
<rect x="352" y="613" width="2" height="24" fill="#009400"/>
<rect x="355" y="615" width="2" height="22" fill="#009400"/>
<rect x="358" y="612" width="2" height="25" fill="#009400"/>
<rect x="361" y="620" width="2" height="17" fill="#009400"/>
<rect x="364" y="616" width="2" height="21" fill="#009400"/>
<rect x="367" y="618" width="2" height="19" fill="#009400"/>
<rect x="370" y="616" width="2" height="21" fill="#009400"/>
<rect x="373" y="611" width="2" height="26" fill="#009400"/>
<rect x="376" y="610" width="2" height="27" fill="#009400"/>
<rect x="379" y="604" width="2" height="33" fill="#009400"/>
<rect x="382" y="600" width="2" height="37" fill="#009400"/>
<rect x="385" y="596" width="2" height="41" fill="#009400"/>
<rect x="388" y="595" width="2" height="42" fill="#009400"/>
<rect x="391" y="599" width="2" height="38" fill="#009400"/>
<rect x="394" y="604" width="2" height="33" fill="#009400"/>
<rect x="397" y="585" width="2" height="52" fill="#009400"/>
<rect x="400" y="594" width="2" height="43" fill="#009400"/>
<rect x="403" y="595" width="2" height="42" fill="#009400"/>
<rect x="406" y="595" width="2" height="42" fill="#009400"/>
<rect x="409" y="625" width="2" height="12" fill="#009400"/>
<rect x="412" y="604" width="2" height="33" fill="#009400"/>
<rect x="415" y="595" width="2" height="42" fill="#009400"/>
<rect x="418" y="596" width="2" height="41" fill="#009400"/>
<rect x="420" y="593" width="2" height="44" fill="#009400"/>
<rect x="423" y="595" width="2" height="42" fill="#009400"/>
<rect x="426" y="600" width="2" height="37" fill="#009400"/>
<rect x="429" y="602" width="2" height="35" fill="#009400"/>
<rect x="432" y="603" width="2" height="34" fill="#009400"/>
<rect x="435" y="596" width="2" height="41" fill="#009400"/>
<rect x="438" y="580" width="2" height="57" fill="#009400"/>
<rect x="441" y="575" width="2" height="62" fill="#009400"/>
<rect x="444" y="574" width="2" height="63" fill="#009400"/>
<rect x="447" y="553" width="2" height="84" fill="#009400"/>
<rect x="450" y="557" width="2" height="80" fill="#009400"/>
<rect x="453" y="556" width="2" height="81" fill="#009400"/>
<rect x="456" y="550" width="2" height="87" fill="#009400"/>
<rect x="459" y="575" width="2" height="62" fill="#009400"/>
<rect x="462" y="598" width="2" height="39" fill="#009400"/>
<rect x="465" y="583" width="2" height="54" fill="#009400"/>
<rect x="468" y="590" width="2" height="47" fill="#009400"/>
<rect x="471" y="594" width="2" height="43" fill="#009400"/>
<rect x="474" y="599" width="2" height="38" fill="#009400"/>
<rect x="477" y="592" width="2" height="45" fill="#009400"/>
<rect x="480" y="580" width="2" height="57" fill="#009400"/>
<rect x="483" y="584" width="2" height="53" fill="#009400"/>
<rect x="486" y="598" width="2" height="39" fill="#009400"/>
<rect x="489" y="599" width="2" height="38" fill="#009400"/>
<rect x="492" y="607" width="2" height="30" fill="#009400"/>
<rect x="495" y="605" width="2" height="32" fill="#009400"/>
<rect x="498" y="607" width="2" height="30" fill="#009400"/>
<rect x="501" y="606" width="2" height="31" fill="#009400"/>
<rect x="503" y="605" width="2" height="32" fill="#009400"/>
<rect x="506" y="609" width="2" height="28" fill="#009400"/>
<rect x="509" y="602" width="2" height="35" fill="#009400"/>
<rect x="512" y="621" width="2" height="16" fill="#009400"/>
<rect x="515" y="591" width="2" height="46" fill="#009400"/>
<rect x="518" y="580" width="2" height="57" fill="#009400"/>
<rect x="521" y="593" width="2" height="44" fill="#009400"/>
<rect x="524" y="598" width="2" height="39" fill="#009400"/>
<rect x="527" y="595" width="2" height="42" fill="#009400"/>
<rect x="530" y="608" width="2" height="29" fill="#009400"/>
<rect x="533" y="596" width="2" height="41" fill="#009400"/>
<rect x="536" y="580" width="2" height="57" fill="#009400"/>
<rect x="539" y="588" width="2" height="49" fill="#009400"/>
<rect x="542" y="601" width="2" height="36" fill="#009400"/>
<rect x="545" y="601" width="2" height="36" fill="#009400"/>
<rect x="548" y="601" width="2" height="36" fill="#009400"/>
<rect x="551" y="600" width="2" height="37" fill="#009400"/>
<path d="M478 582h19v1h-19zM472 583h6v1h-6zM497 583h2v1h-2zM471 584h1v1h-1zM499 584h2v1h-2zM469 585h2v1h-2zM501 585h2v1h-2zM459 586h10v1h-10zM503 586h1v1h-1zM457 587h2v1h-2zM504 587h1v1h-1zM455 588h2v1h-2zM505 588h1v1h-1zM453 589h2v1h-2zM506 589h1v1h-1zM452 590h1v1h-1zM507 590h1v1h-1zM450 591h2v1h-2zM508 591h1v1h-1zM449 592h1v1h-1zM509 592h1v1h-1zM447 593h2v1h-2zM510 593h2v1h-2zM445 594h2v1h-2zM512 594h1v1h-1zM443 595h2v1h-2zM513 595h1v1h-1zM441 596h2v1h-2zM514 596h2v1h-2zM165 597h10v1h-10zM439 597h2v1h-2zM516 597h10v1h-10zM162 598h3v1h-3zM175 598h2v1h-2zM189 598h5v1h-5zM435 598h4v1h-4zM526 598h14v1h-14zM160 599h2v1h-2zM177 599h12v1h-12zM194 599h4v1h-4zM431 599h4v1h-4zM540 599h3v1h-3zM549 599h4v1h-4zM155 600h5v1h-5zM198 600h4v1h-4zM281 600h9v1h-9zM428 600h3v1h-3zM543 600h6v1h-6zM150 601h5v1h-5zM202 601h3v1h-3zM277 601h4v1h-4zM290 601h4v1h-4zM426 601h2v1h-2zM146 602h4v1h-4zM205 602h2v1h-2zM239 602h17v1h-17zM262 602h15v1h-15zM294 602h4v1h-4zM423 602h3v1h-3zM144 603h2v1h-2zM207 603h13v1h-13zM236 603h3v1h-3zM256 603h6v1h-6zM298 603h3v1h-3zM419 603h4v1h-4zM142 604h2v1h-2zM220 604h3v1h-3zM233 604h3v1h-3zM301 604h4v1h-4zM417 604h2v1h-2zM140 605h2v1h-2zM223 605h3v1h-3zM229 605h4v1h-4zM305 605h5v1h-5zM415 605h2v1h-2zM138 606h2v1h-2zM226 606h3v1h-3zM310 606h5v1h-5zM319 606h11v1h-11zM404 606h11v1h-11zM134 607h4v1h-4zM315 607h4v1h-4zM330 607h5v1h-5zM399 607h5v1h-5zM44 608h18v1h-18zM127 608h7v1h-7zM335 608h2v1h-2zM397 608h2v1h-2zM42 609h2v1h-2zM61 609h1v1h-1zM121 609h6v1h-6zM337 609h12v1h-12zM394 609h3v1h-3zM39 610h3v1h-3zM62 610h35v1h-35zM118 610h3v1h-3zM349 610h4v1h-4zM390 610h4v1h-4zM37 611h2v1h-2zM97 611h2v1h-2zM116 611h2v1h-2zM353 611h7v1h-7zM386 611h4v1h-4zM0 612h37v1h-37zM99 612h2v1h-2zM113 612h3v1h-3zM360 612h26v1h-26zM101 613h2v1h-2zM110 613h3v1h-3zM103 614h7v1h-7z" fill="#ff0000"/>
<rect x="589" y="629" width="39" height="14" fill="#000"/>
<rect x="590" y="630" width="37" height="13" fill="#fff"/>
</g>
<g>
<text x="633.4" y="12" text-anchor="end">100</text>
<text x="633.4" y="34" text-anchor="end">50</text>
<text x="633.4" y="56" text-anchor="end">0</text>
<text x="633.4" y="78" text-anchor="end">-50</text>
<text x="633.4" y="113" text-anchor="end">100</text>
<text x="633.4" y="158" text-anchor="end">50</text>
<text x="633.4" y="528" text-anchor="end">900</text>
<text x="633.4" y="513" text-anchor="end">950</text>
<text x="633.4" y="498" text-anchor="end">1000</text>
<text x="633.4" y="483" text-anchor="end">1050</text>
<text x="633.4" y="468" text-anchor="end">1100</text>
<text x="633.4" y="452" text-anchor="end">1150</text>
<text x="633.4" y="437" text-anchor="end">1200</text>
<text x="633.4" y="422" text-anchor="end">1250</text>
<text x="633.4" y="407" text-anchor="end">1300</text>
<text x="633.4" y="392" text-anchor="end">1350</text>
<text x="633.4" y="377" text-anchor="end">1400</text>
<text x="633.4" y="362" text-anchor="end">1450</text>
<text x="633.4" y="347" text-anchor="end">1500</text>
<text x="633.4" y="332" text-anchor="end">1550</text>
<text x="633.4" y="317" text-anchor="end">1600</text>
<text x="633.4" y="302" text-anchor="end">1650</text>
<text x="633.4" y="286" text-anchor="end">1700</text>
<text x="633.4" y="256" text-anchor="end">1800</text>
<text x="633.4" y="241" text-anchor="end">1850</text>
<text x="633.4" y="226" text-anchor="end">1900</text>
<text x="633.4" y="596" text-anchor="end">50000</text>
<text x="56.3" y="659.4">2023</text>
<text x="210.3" y="659.4">2024</text>
<text x="364.3" y="659.4">2025</text>
<text x="518.3" y="659.4">2026</text>
<text x="612.5" y="268" text-anchor="middle" style="fill:#00ff00;font-size:10.6px">1750.00</text>
<text x="591" y="638.5" style="font-size:9.2px">x100000</text>
</g>
</svg>
</body>
</html>
